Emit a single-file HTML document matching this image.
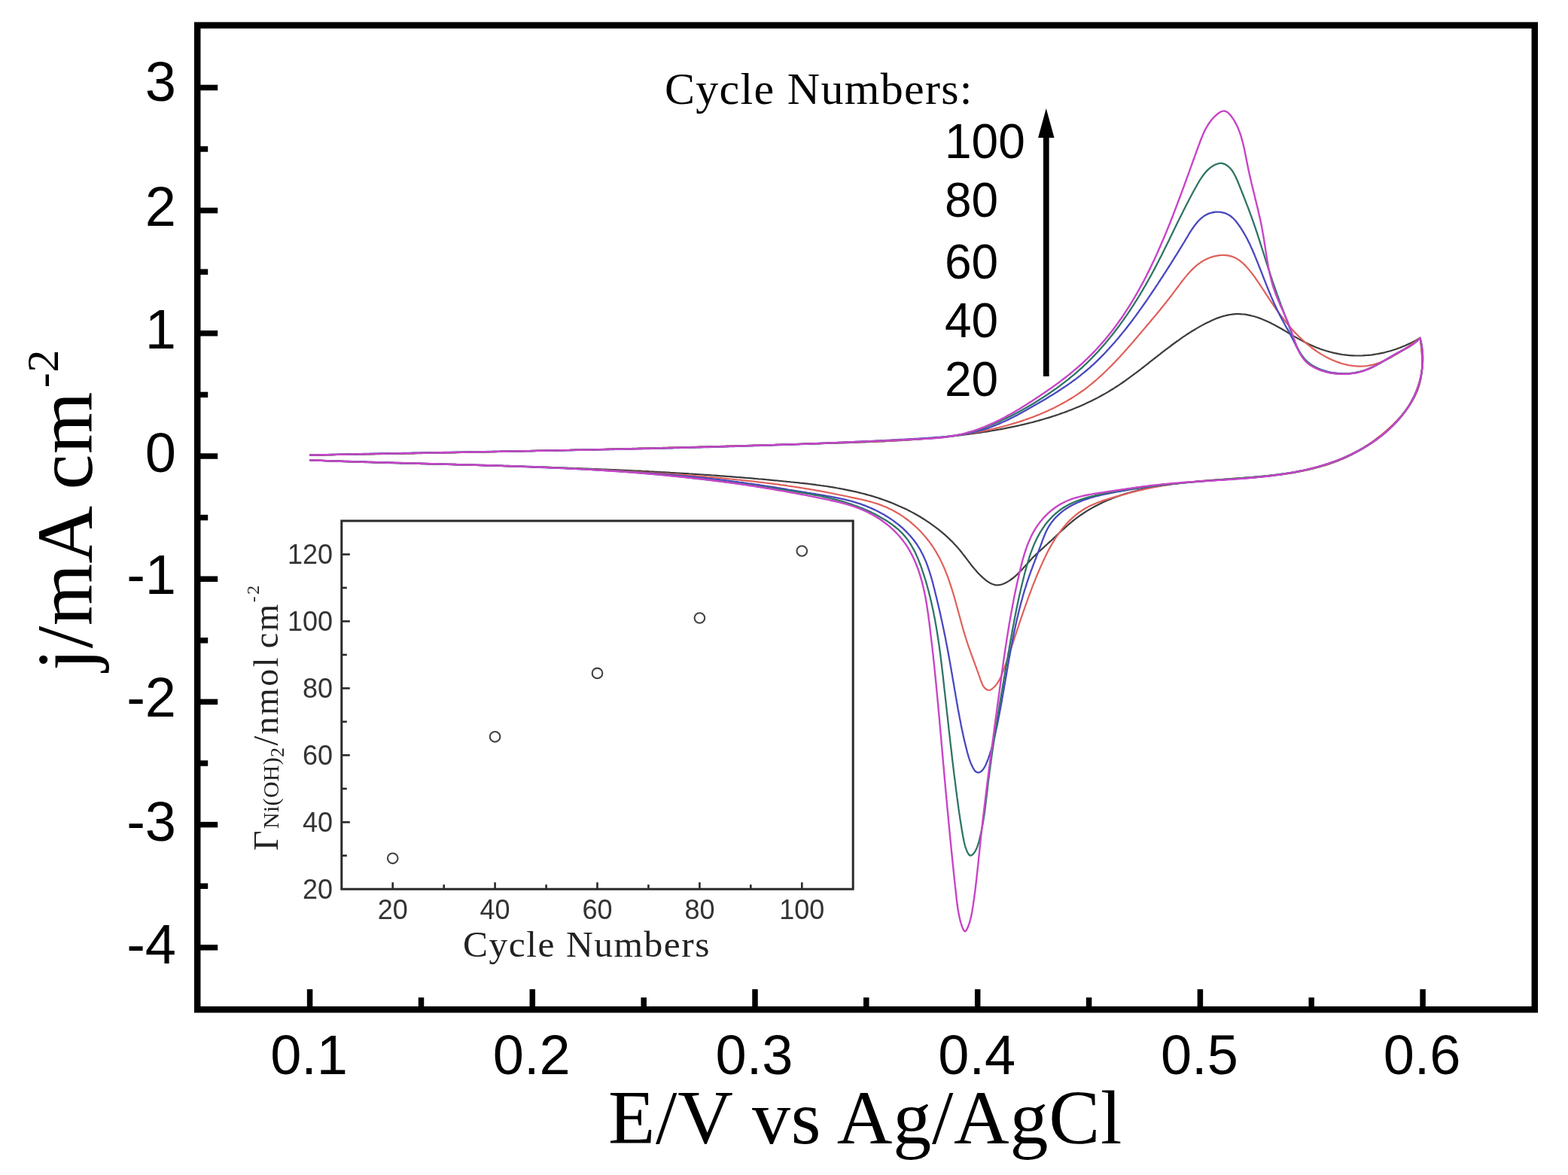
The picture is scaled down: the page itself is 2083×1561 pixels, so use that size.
<!DOCTYPE html><html><head><meta charset="utf-8"><title>Cyclic voltammograms</title>
<style>html,body{margin:0;padding:0;background:#fff;overflow:hidden;}svg{display:block;}.sans{font-family:"Liberation Sans",Arial,sans-serif;}.serif{font-family:"Liberation Serif","Times New Roman",serif;}</style></head><body>
<svg width="2083" height="1561" viewBox="0 0 2083 1561">
<rect x="0" y="0" width="2083" height="1561" fill="#fff"/>
<path d="M412.0,604.6L414.5,604.6 417.0,604.5 419.5,604.5 422.0,604.4 424.5,604.4 427.0,604.4 429.5,604.3 432.0,604.3 434.5,604.2 437.1,604.2 439.6,604.2 442.1,604.1 444.6,604.1 447.1,604.0 449.6,604.0 452.1,604.0 454.6,603.9 457.1,603.9 459.6,603.8 462.1,603.8 464.6,603.8 467.1,603.7 469.6,603.7 472.1,603.6 474.6,603.6 477.1,603.5 479.6,603.5 482.2,603.5 484.7,603.4 487.2,603.4 489.7,603.3 492.2,603.3 494.7,603.2 497.2,603.2 499.7,603.2 502.2,603.1 504.7,603.1 507.2,603.0 509.7,603.0 512.2,602.9 514.7,602.9 517.2,602.8 519.8,602.8 522.3,602.8 524.8,602.7 527.3,602.7 529.8,602.6 532.3,602.6 534.8,602.5 537.3,602.5 539.8,602.4 542.3,602.4 544.8,602.3 547.3,602.3 549.8,602.3 552.3,602.2 554.9,602.2 557.4,602.1 559.9,602.1 562.4,602.0 564.9,602.0 567.4,601.9 569.9,601.9 572.4,601.8 574.9,601.8 577.4,601.7 579.9,601.7 582.4,601.6 584.9,601.6 587.5,601.5 590.0,601.5 592.5,601.4 595.0,601.4 597.5,601.3 600.0,601.3 602.5,601.2 605.0,601.2 607.5,601.1 610.0,601.1 612.5,601.0 615.0,601.0 617.5,600.9 620.1,600.9 622.6,600.8 625.1,600.8 627.6,600.7 630.1,600.7 632.6,600.6 635.1,600.6 637.6,600.5 640.1,600.5 642.6,600.4 645.1,600.4 647.6,600.3 650.2,600.3 652.7,600.2 655.2,600.2 657.7,600.1 660.2,600.1 662.7,600.0 665.2,600.0 667.7,599.9 670.2,599.8 672.7,599.8 675.2,599.7 677.7,599.7 680.3,599.6 682.8,599.6 685.3,599.5 687.8,599.5 690.3,599.4 692.8,599.4 695.3,599.3 697.8,599.2 700.3,599.2 702.8,599.1 705.3,599.1 707.8,599.0 710.4,599.0 712.9,598.9 715.4,598.9 717.9,598.8 720.4,598.8 722.9,598.7 725.4,598.6 727.9,598.6 730.4,598.5 732.9,598.5 735.4,598.4 737.9,598.4 740.5,598.3 743.0,598.2 745.5,598.2 748.0,598.1 750.5,598.1 753.0,598.0 755.5,598.0 758.0,597.9 760.5,597.8 763.0,597.8 765.5,597.7 768.1,597.7 770.6,597.6 773.1,597.5 775.6,597.5 778.1,597.4 780.6,597.4 783.1,597.3 785.6,597.3 788.1,597.2 790.6,597.1 793.1,597.1 795.6,597.0 798.2,597.0 800.7,596.9 803.2,596.8 805.7,596.8 808.2,596.7 810.7,596.7 813.2,596.6 815.7,596.5 818.2,596.5 820.7,596.4 823.2,596.3 825.7,596.3 828.3,596.2 830.8,596.2 833.3,596.1 835.8,596.0 838.3,596.0 840.8,595.9 843.3,595.9 845.8,595.8 848.3,595.7 850.8,595.7 853.3,595.6 855.8,595.5 858.3,595.5 860.9,595.4 863.4,595.4 865.9,595.3 868.4,595.2 870.9,595.2 873.4,595.1 875.9,595.0 878.4,595.0 880.9,594.9 883.4,594.9 885.9,594.8 888.4,594.7 890.9,594.7 893.5,594.6 896.0,594.5 898.5,594.5 901.0,594.4 903.5,594.3 906.0,594.3 908.5,594.2 911.0,594.1 913.5,594.1 916.0,594.0 918.5,593.9 921.0,593.9 923.5,593.8 926.0,593.8 928.6,593.7 931.1,593.6 933.6,593.6 936.1,593.5 938.6,593.4 941.1,593.4 943.6,593.3 946.1,593.2 948.6,593.2 951.1,593.1 953.6,593.0 956.1,593.0 958.6,592.9 961.1,592.8 963.6,592.8 966.1,592.7 968.7,592.6 971.2,592.6 973.7,592.5 976.2,592.4 978.7,592.3 981.2,592.3 983.7,592.2 986.2,592.1 988.7,592.1 991.2,592.0 993.7,591.9 996.2,591.9 998.7,591.8 1001.2,591.7 1003.7,591.7 1006.2,591.6 1008.7,591.5 1011.3,591.5 1013.8,591.4 1016.3,591.3 1018.8,591.2 1021.3,591.2 1023.8,591.1 1026.3,591.0 1028.8,591.0 1031.3,590.9 1033.8,590.8 1036.3,590.8 1038.8,590.7 1041.3,590.6 1043.8,590.6 1046.3,590.5 1048.8,590.4 1051.3,590.3 1053.8,590.3 1056.3,590.2 1058.8,590.1 1061.3,590.1 1063.8,590.0 1066.4,589.9 1068.9,589.8 1071.4,589.8 1073.9,589.7 1076.4,589.6 1078.9,589.6 1081.4,589.5 1083.9,589.4 1086.4,589.3 1088.9,589.3 1091.4,589.2 1093.9,589.1 1096.4,589.0 1098.9,589.0 1101.4,588.9 1103.9,588.8 1106.4,588.8 1108.9,588.7 1111.4,588.6 1113.9,588.5 1116.4,588.5 1118.9,588.4 1121.4,588.3 1123.9,588.2 1126.4,588.1 1128.9,588.0 1131.4,588.0 1133.9,587.9 1136.4,587.8 1138.9,587.7 1141.4,587.6 1143.9,587.5 1146.4,587.4 1148.9,587.3 1151.4,587.2 1153.9,587.1 1156.4,587.0 1158.9,586.9 1161.4,586.8 1163.9,586.7 1166.5,586.6 1169.0,586.5 1171.5,586.4 1174.0,586.3 1176.5,586.1 1179.0,586.0 1181.5,585.9 1184.0,585.8 1186.5,585.6 1189.0,585.5 1191.5,585.3 1194.0,585.2 1196.5,585.1 1199.0,584.9 1201.5,584.8 1204.0,584.6 1206.5,584.4 1209.0,584.3 1211.5,584.1 1214.0,583.9 1216.5,583.8 1219.0,583.6 1221.5,583.4 1224.0,583.2 1226.5,583.0 1229.0,582.8 1231.5,582.6 1234.0,582.4 1236.5,582.2 1239.0,582.0 1241.5,581.7 1244.0,581.5 1246.5,581.3 1249.0,581.1 1251.5,580.8 1254.0,580.6 1256.5,580.3 1259.0,580.1 1261.5,579.8 1264.0,579.5 1266.5,579.3 1269.0,579.0 1271.4,578.7 1273.9,578.4 1276.4,578.1 1278.9,577.8 1281.4,577.5 1283.9,577.2 1286.4,576.9 1288.9,576.5 1291.4,576.2 1293.9,575.8 1296.4,575.5 1298.9,575.1 1301.4,574.8 1303.9,574.4 1306.4,574.0 1308.9,573.7 1311.4,573.3 1313.9,572.9 1316.4,572.5 1318.9,572.0 1321.4,571.6 1323.9,571.2 1326.3,570.7 1328.8,570.3 1331.3,569.8 1333.8,569.4 1336.3,568.9 1338.7,568.4 1341.2,567.9 1343.7,567.4 1346.1,566.9 1348.6,566.4 1351.1,565.8 1353.5,565.3 1356.0,564.7 1358.4,564.2 1360.9,563.6 1363.3,563.0 1365.8,562.4 1368.2,561.8 1370.6,561.2 1373.1,560.6 1375.5,559.9 1377.9,559.3 1380.3,558.6 1382.7,557.9 1385.1,557.2 1387.5,556.5 1389.9,555.8 1392.3,555.1 1394.7,554.4 1397.1,553.6 1399.5,552.8 1401.9,552.1 1404.2,551.3 1406.6,550.5 1408.9,549.6 1411.3,548.8 1413.6,548.0 1416.0,547.1 1418.3,546.2 1420.6,545.3 1422.9,544.4 1425.3,543.5 1427.6,542.6 1429.9,541.6 1432.1,540.7 1434.4,539.7 1436.7,538.7 1439.0,537.7 1441.2,536.7 1443.5,535.6 1445.7,534.6 1448.0,533.5 1450.2,532.4 1452.4,531.3 1454.6,530.2 1456.9,529.1 1459.1,527.9 1461.2,526.7 1463.4,525.5 1465.6,524.3 1467.8,523.1 1469.9,521.9 1472.1,520.6 1474.2,519.3 1476.3,518.0 1478.4,516.7 1480.5,515.4 1482.6,514.0 1484.7,512.7 1486.8,511.3 1488.9,509.9 1491.0,508.5 1493.0,507.0 1495.1,505.6 1497.1,504.1 1499.1,502.7 1501.2,501.2 1503.2,499.7 1505.2,498.2 1507.2,496.7 1509.3,495.2 1511.3,493.6 1513.3,492.1 1515.3,490.6 1517.3,489.0 1519.3,487.5 1521.3,485.9 1523.3,484.4 1525.2,482.8 1527.2,481.2 1529.2,479.7 1531.2,478.1 1533.2,476.5 1535.2,475.0 1537.2,473.4 1539.2,471.8 1541.2,470.3 1543.2,468.7 1545.2,467.2 1547.2,465.6 1549.2,464.1 1551.2,462.6 1553.3,461.0 1555.3,459.5 1557.3,458.0 1559.3,456.5 1561.4,455.0 1563.4,453.5 1565.5,452.1 1567.6,450.6 1569.6,449.2 1571.7,447.7 1573.8,446.3 1575.9,444.9 1578.0,443.5 1580.1,442.2 1582.2,440.8 1584.4,439.5 1586.5,438.2 1588.7,436.9 1590.8,435.6 1593.0,434.4 1595.2,433.1 1597.4,431.9 1599.6,430.7 1601.9,429.6 1604.1,428.5 1606.4,427.4 1608.7,426.3 1610.9,425.3 1613.2,424.3 1615.5,423.3 1617.9,422.4 1620.2,421.6 1622.5,420.8 1624.9,420.1 1627.3,419.5 1629.6,418.9 1632.0,418.4 1634.4,418.0 1636.8,417.6 1639.2,417.4 1641.6,417.2 1644.0,417.1 1646.5,417.1 1648.9,417.3 1651.3,417.5 1653.8,417.7 1656.2,418.1 1658.6,418.6 1661.0,419.1 1663.5,419.7 1665.9,420.3 1668.3,421.0 1670.7,421.8 1673.0,422.6 1675.4,423.5 1677.7,424.4 1680.1,425.4 1682.4,426.4 1684.7,427.5 1686.9,428.6 1689.2,429.7 1691.4,430.9 1693.7,432.1 1695.9,433.3 1698.1,434.5 1700.4,435.8 1702.6,437.0 1704.8,438.3 1707.0,439.6 1709.2,440.9 1711.4,442.2 1713.6,443.5 1715.8,444.8 1718.0,446.1 1720.2,447.4 1722.4,448.6 1724.6,449.9 1726.8,451.1 1729.1,452.3 1731.3,453.5 1733.5,454.7 1735.8,455.8 1738.1,456.9 1740.4,458.0 1742.7,459.0 1745.0,460.0 1747.3,461.0 1749.6,461.9 1751.9,462.8 1754.3,463.7 1756.6,464.5 1759.0,465.3 1761.4,466.0 1763.8,466.7 1766.2,467.4 1768.6,468.0 1771.0,468.6 1773.4,469.2 1775.8,469.7 1778.3,470.2 1780.7,470.6 1783.1,471.0 1785.6,471.3 1788.1,471.6 1790.5,471.9 1793.0,472.1 1795.5,472.3 1798.0,472.4 1800.4,472.5 1802.9,472.5 1805.4,472.5 1807.9,472.5 1810.4,472.4 1812.9,472.2 1815.5,472.0 1818.0,471.8 1820.5,471.6 1823.0,471.3 1825.5,470.9 1828.0,470.5 1830.4,470.1 1832.9,469.6 1835.4,469.1 1837.9,468.6 1840.3,468.0 1842.8,467.3 1845.2,466.7 1847.7,466.0 1850.1,465.3 1852.5,464.5 1854.9,463.7 1857.3,462.8 1859.6,462.0 1862.0,461.1 1864.3,460.1 1866.6,459.2 1868.9,458.1 1871.2,457.1 1873.4,456.0 1875.7,454.9 1877.9,453.8 1880.1,452.7 1882.2,451.5 1884.4,450.2 1886.5,449.0 M1886.5,449.0L1886.9,451.4 1887.2,453.9 1887.6,456.4 1887.9,458.8 1888.1,461.3 1888.4,463.8 1888.6,466.3 1888.8,468.8 1889.0,471.4 1889.1,473.9 1889.2,476.4 1889.3,478.9 1889.3,481.5 1889.3,484.0 1889.2,486.5 1889.1,489.0 1888.9,491.5 1888.7,494.0 1888.4,496.5 1888.0,499.0 1887.6,501.4 1887.2,503.9 1886.6,506.3 1886.0,508.7 1885.4,511.1 1884.6,513.5 1883.8,515.8 1883.0,518.2 1882.0,520.5 1881.0,522.7 1880.0,525.0 1878.9,527.3 1877.7,529.5 1876.5,531.7 1875.2,533.8 1873.9,536.0 1872.6,538.1 1871.2,540.2 1869.7,542.3 1868.2,544.3 1866.7,546.4 1865.2,548.4 1863.6,550.3 1862.0,552.3 1860.4,554.2 1858.7,556.1 1857.0,558.0 1855.3,559.8 1853.5,561.7 1851.8,563.5 1850.0,565.2 1848.2,567.0 1846.4,568.7 1844.5,570.4 1842.6,572.1 1840.8,573.7 1838.8,575.3 1836.9,576.9 1835.0,578.5 1833.0,580.0 1831.0,581.5 1829.0,583.0 1827.0,584.5 1824.9,585.9 1822.8,587.4 1820.8,588.8 1818.7,590.1 1816.6,591.5 1814.4,592.8 1812.3,594.1 1810.1,595.4 1807.9,596.6 1805.8,597.9 1803.6,599.1 1801.3,600.2 1799.1,601.4 1796.9,602.5 1794.6,603.7 1792.4,604.7 1790.1,605.8 1787.8,606.9 1785.5,607.9 1783.2,608.9 1780.9,609.9 1778.6,610.8 1776.2,611.7 1773.9,612.7 1771.6,613.5 1769.2,614.4 1766.8,615.3 1764.5,616.1 1762.1,616.9 1759.7,617.7 1757.3,618.4 1754.9,619.2 1752.5,619.9 1750.1,620.6 1747.7,621.2 1745.3,621.9 1742.9,622.5 1740.5,623.1 1738.1,623.7 1735.7,624.3 1733.2,624.9 1730.8,625.4 1728.4,625.9 1726.0,626.4 1723.5,626.9 1721.1,627.4 1718.6,627.8 1716.2,628.3 1713.8,628.7 1711.3,629.1 1708.9,629.5 1706.4,629.9 1704.0,630.2 1701.5,630.6 1699.0,630.9 1696.6,631.2 1694.1,631.5 1691.6,631.8 1689.2,632.1 1686.7,632.4 1684.2,632.7 1681.7,632.9 1679.3,633.2 1676.8,633.4 1674.3,633.7 1671.8,633.9 1669.3,634.1 1666.8,634.3 1664.3,634.5 1661.8,634.7 1659.4,634.9 1656.9,635.1 1654.4,635.3 1651.9,635.5 1649.4,635.6 1646.9,635.8 1644.4,636.0 1641.8,636.1 1639.3,636.3 1636.8,636.5 1634.3,636.6 1631.8,636.8 1629.3,636.9 1626.8,637.1 1624.3,637.3 1621.7,637.4 1619.2,637.6 1616.7,637.7 1614.2,637.9 1611.7,638.1 1609.1,638.2 1606.6,638.4 1604.1,638.6 1601.6,638.8 1599.1,639.0 1596.5,639.1 1594.0,639.3 1591.5,639.5 1588.9,639.8 1586.4,640.0 1583.9,640.2 1581.4,640.4 1578.8,640.7 1576.3,640.9 1573.8,641.2 1571.3,641.4 1568.7,641.7 1566.2,642.0 1563.7,642.3 1561.2,642.6 1558.6,642.9 1556.1,643.2 1553.6,643.6 1551.1,643.9 1548.6,644.3 1546.1,644.6 1543.6,645.0 1541.1,645.4 1538.6,645.9 1536.1,646.3 1533.7,646.7 1531.2,647.2 1528.7,647.7 1526.2,648.1 1523.8,648.7 1521.3,649.2 1518.9,649.7 1516.4,650.3 1514.0,650.8 1511.6,651.4 1509.2,652.1 1506.7,652.7 1504.3,653.3 1501.9,654.0 1499.5,654.7 1497.2,655.4 1494.8,656.1 1492.4,656.9 1490.1,657.6 1487.7,658.4 1485.4,659.3 1483.0,660.1 1480.7,661.0 1478.4,661.8 1476.1,662.7 1473.8,663.7 1471.6,664.6 1469.3,665.6 1467.0,666.6 1464.8,667.6 1462.6,668.7 1460.3,669.8 1458.1,670.9 1455.9,672.0 1453.7,673.2 1451.6,674.4 1449.4,675.6 1447.3,676.8 1445.1,678.1 1443.0,679.4 1440.9,680.8 1438.8,682.1 1436.8,683.5 1434.7,684.9 1432.7,686.4 1430.6,687.9 1428.6,689.4 1426.6,691.0 1424.6,692.5 1422.7,694.2 1420.7,695.8 1418.8,697.5 1416.9,699.2 1415.0,700.9 1413.1,702.6 1411.2,704.3 1409.3,706.0 1407.4,707.8 1405.6,709.5 1403.7,711.3 1401.9,713.0 1400.0,714.7 1398.2,716.5 1396.4,718.2 1394.5,719.9 1392.7,721.5 1390.9,723.2 1389.1,724.8 1387.3,726.5 1385.5,728.1 1383.7,729.7 1381.9,731.4 1380.1,733.0 1378.3,734.7 1376.5,736.4 1374.8,738.1 1373.0,739.8 1371.3,741.6 1369.5,743.5 1367.8,745.4 1366.1,747.3 1364.4,749.2 1362.6,751.1 1360.9,753.1 1359.1,755.0 1357.4,756.9 1355.6,758.8 1353.8,760.6 1352.0,762.4 1350.1,764.2 1348.2,765.9 1346.3,767.5 1344.3,769.0 1342.3,770.5 1340.2,771.9 1338.1,773.1 1336.0,774.3 1333.8,775.3 1331.5,776.2 1329.2,776.8 1326.9,777.2 1324.6,777.3 1322.3,777.1 1320.0,776.5 1317.8,775.7 1315.5,774.7 1313.4,773.4 1311.2,772.0 1309.1,770.4 1307.1,768.7 1305.1,766.9 1303.2,765.1 1301.3,763.3 1299.5,761.4 1297.8,759.5 1296.1,757.6 1294.4,755.6 1292.8,753.7 1291.2,751.8 1289.7,749.8 1288.2,747.8 1286.7,745.9 1285.2,743.9 1283.7,741.9 1282.2,740.0 1280.7,738.0 1279.2,736.1 1277.7,734.1 1276.2,732.2 1274.6,730.3 1273.0,728.4 1271.4,726.6 1269.7,724.7 1268.0,722.9 1266.3,721.1 1264.6,719.3 1262.8,717.6 1261.0,715.8 1259.2,714.1 1257.3,712.4 1255.5,710.7 1253.6,709.1 1251.6,707.4 1249.7,705.8 1247.7,704.2 1245.7,702.6 1243.7,701.1 1241.7,699.6 1239.6,698.1 1237.6,696.6 1235.5,695.1 1233.4,693.7 1231.3,692.3 1229.2,690.9 1227.0,689.5 1224.9,688.2 1222.7,686.8 1220.5,685.5 1218.3,684.3 1216.1,683.0 1213.9,681.8 1211.7,680.6 1209.5,679.4 1207.2,678.3 1205.0,677.1 1202.7,676.0 1200.5,675.0 1198.2,673.9 1195.9,672.9 1193.6,671.9 1191.4,670.9 1189.1,669.9 1186.8,668.9 1184.5,668.0 1182.1,667.1 1179.8,666.2 1177.5,665.4 1175.2,664.5 1172.8,663.7 1170.5,662.9 1168.1,662.1 1165.8,661.3 1163.4,660.6 1161.0,659.8 1158.7,659.1 1156.3,658.4 1153.9,657.8 1151.5,657.1 1149.1,656.4 1146.7,655.8 1144.3,655.2 1141.9,654.6 1139.5,654.0 1137.1,653.4 1134.6,652.9 1132.2,652.3 1129.8,651.8 1127.3,651.3 1124.9,650.8 1122.5,650.3 1120.0,649.8 1117.6,649.4 1115.1,648.9 1112.6,648.5 1110.2,648.0 1107.7,647.6 1105.3,647.2 1102.8,646.8 1100.3,646.4 1097.8,646.0 1095.4,645.7 1092.9,645.3 1090.4,645.0 1087.9,644.6 1085.4,644.3 1082.9,643.9 1080.4,643.6 1078.0,643.3 1075.5,643.0 1073.0,642.7 1070.5,642.4 1068.0,642.1 1065.5,641.8 1063.0,641.6 1060.5,641.3 1058.0,641.0 1055.5,640.8 1053.0,640.5 1050.5,640.3 1048.0,640.0 1045.4,639.8 1042.9,639.5 1040.4,639.3 1037.9,639.0 1035.4,638.8 1032.9,638.5 1030.4,638.3 1027.9,638.1 1025.4,637.8 1022.9,637.6 1020.4,637.4 1017.9,637.2 1015.4,636.9 1012.9,636.7 1010.4,636.5 1007.9,636.3 1005.4,636.0 1002.9,635.8 1000.4,635.6 997.9,635.4 995.4,635.2 992.9,635.0 990.3,634.8 987.8,634.6 985.3,634.4 982.8,634.2 980.3,634.0 977.8,633.8 975.3,633.6 972.8,633.4 970.3,633.2 967.8,633.0 965.3,632.8 962.8,632.6 960.3,632.4 957.8,632.3 955.3,632.1 952.8,631.9 950.3,631.7 947.8,631.5 945.3,631.4 942.8,631.2 940.3,631.0 937.8,630.8 935.3,630.7 932.8,630.5 930.3,630.3 927.8,630.2 925.3,630.0 922.8,629.8 920.3,629.7 917.8,629.5 915.3,629.4 912.8,629.2 910.3,629.1 907.7,628.9 905.2,628.8 902.7,628.6 900.2,628.5 897.7,628.3 895.2,628.2 892.7,628.0 890.2,627.9 887.7,627.7 885.2,627.6 882.7,627.4 880.2,627.3 877.7,627.2 875.2,627.0 872.7,626.9 870.2,626.8 867.7,626.6 865.2,626.5 862.7,626.4 860.2,626.2 857.7,626.1 855.2,626.0 852.7,625.9 850.2,625.7 847.7,625.6 845.2,625.5 842.7,625.4 840.2,625.3 837.7,625.1 835.2,625.0 832.7,624.9 830.2,624.8 827.7,624.7 825.2,624.6 822.7,624.4 820.2,624.3 817.7,624.2 815.2,624.1 812.7,624.0 810.2,623.9 807.7,623.8 805.2,623.7 802.7,623.6 800.2,623.5 797.7,623.4 795.2,623.3 792.7,623.2 790.2,623.1 787.7,623.0 785.2,622.9 782.6,622.8 780.1,622.7 777.6,622.6 775.1,622.5 772.6,622.4 770.1,622.3 767.6,622.2 765.1,622.1 762.6,622.0 760.1,621.9 757.6,621.8 755.1,621.8 752.6,621.7 750.1,621.6 747.6,621.5 745.1,621.4 742.6,621.3 740.1,621.2 737.6,621.2 735.1,621.1 732.6,621.0 730.1,620.9 727.6,620.8 725.1,620.7 722.6,620.7 720.1,620.6 717.6,620.5 715.1,620.4 712.6,620.3 710.1,620.3 707.6,620.2 705.1,620.1 702.6,620.0 700.1,620.0 697.6,619.9 695.1,619.8 692.6,619.7 690.1,619.7 687.6,619.6 685.1,619.5 682.6,619.4 680.1,619.4 677.6,619.3 675.1,619.2 672.6,619.1 670.1,619.1 667.6,619.0 665.1,618.9 662.5,618.9 660.0,618.8 657.5,618.7 655.0,618.7 652.5,618.6 650.0,618.5 647.5,618.4 645.0,618.4 642.5,618.3 640.0,618.2 637.5,618.2 635.0,618.1 632.5,618.0 630.0,618.0 627.5,617.9 625.0,617.8 622.5,617.8 620.0,617.7 617.5,617.6 615.0,617.6 612.5,617.5 610.0,617.4 607.5,617.4 605.0,617.3 602.5,617.2 600.0,617.2 597.5,617.1 595.0,617.0 592.5,617.0 590.0,616.9 587.4,616.8 584.9,616.8 582.4,616.7 579.9,616.6 577.4,616.6 574.9,616.5 572.4,616.4 569.9,616.3 567.4,616.3 564.9,616.2 562.4,616.1 559.9,616.1 557.4,616.0 554.9,615.9 552.4,615.9 549.9,615.8 547.4,615.7 544.9,615.7 542.4,615.6 539.9,615.5 537.4,615.4 534.9,615.4 532.3,615.3 529.8,615.2 527.3,615.2 524.8,615.1 522.3,615.0 519.8,614.9 517.3,614.9 514.8,614.8 512.3,614.7 509.8,614.6 507.3,614.6 504.8,614.5 502.3,614.4 499.8,614.3 497.3,614.3 494.8,614.2 492.3,614.1 489.7,614.0 487.2,614.0 484.7,613.9 482.2,613.8 479.7,613.7 477.2,613.6 474.7,613.6 472.2,613.5 469.7,613.4 467.2,613.3 464.7,613.2 462.2,613.1 459.7,613.1 457.2,613.0 454.6,612.9 452.1,612.8 449.6,612.7 447.1,612.6 444.6,612.5 442.1,612.4 439.6,612.3 437.1,612.3 434.6,612.2 432.1,612.1 429.6,612.0 427.1,611.9 424.5,611.8 422.0,611.7 419.5,611.6 417.0,611.5 414.5,611.4 412.0,611.3" fill="none" stroke="#3c3c3c" stroke-width="2.2" stroke-linejoin="round" stroke-linecap="round"/>
<path d="M412.0,604.6L414.5,604.6 417.0,604.5 419.5,604.5 422.0,604.4 424.5,604.4 427.1,604.3 429.6,604.3 432.1,604.2 434.6,604.2 437.1,604.1 439.6,604.1 442.1,604.1 444.6,604.0 447.1,604.0 449.6,603.9 452.1,603.9 454.7,603.8 457.2,603.8 459.7,603.7 462.2,603.7 464.7,603.6 467.2,603.6 469.7,603.6 472.2,603.5 474.7,603.5 477.2,603.4 479.7,603.4 482.2,603.3 484.8,603.3 487.3,603.2 489.8,603.2 492.3,603.1 494.8,603.1 497.3,603.1 499.8,603.0 502.3,603.0 504.8,602.9 507.3,602.9 509.8,602.8 512.3,602.8 514.8,602.7 517.4,602.7 519.9,602.6 522.4,602.6 524.9,602.6 527.4,602.5 529.9,602.5 532.4,602.4 534.9,602.4 537.4,602.3 539.9,602.3 542.4,602.2 544.9,602.2 547.4,602.1 549.9,602.1 552.5,602.1 555.0,602.0 557.5,602.0 560.0,601.9 562.5,601.9 565.0,601.8 567.5,601.8 570.0,601.7 572.5,601.7 575.0,601.6 577.5,601.6 580.0,601.5 582.5,601.5 585.0,601.4 587.5,601.4 590.1,601.4 592.6,601.3 595.1,601.3 597.6,601.2 600.1,601.2 602.6,601.1 605.1,601.1 607.6,601.0 610.1,601.0 612.6,600.9 615.1,600.9 617.6,600.8 620.1,600.8 622.6,600.7 625.1,600.7 627.6,600.6 630.2,600.6 632.7,600.5 635.2,600.5 637.7,600.4 640.2,600.4 642.7,600.3 645.2,600.3 647.7,600.2 650.2,600.2 652.7,600.1 655.2,600.1 657.7,600.1 660.2,600.0 662.7,600.0 665.2,599.9 667.7,599.9 670.3,599.8 672.8,599.8 675.3,599.7 677.8,599.7 680.3,599.6 682.8,599.6 685.3,599.5 687.8,599.4 690.3,599.4 692.8,599.3 695.3,599.3 697.8,599.2 700.3,599.2 702.8,599.1 705.3,599.1 707.8,599.0 710.3,599.0 712.8,598.9 715.4,598.9 717.9,598.8 720.4,598.8 722.9,598.7 725.4,598.7 727.9,598.6 730.4,598.6 732.9,598.5 735.4,598.5 737.9,598.4 740.4,598.4 742.9,598.3 745.4,598.3 747.9,598.2 750.4,598.1 752.9,598.1 755.4,598.0 757.9,598.0 760.5,597.9 763.0,597.9 765.5,597.8 768.0,597.8 770.5,597.7 773.0,597.7 775.5,597.6 778.0,597.5 780.5,597.5 783.0,597.4 785.5,597.4 788.0,597.3 790.5,597.3 793.0,597.2 795.5,597.1 798.0,597.1 800.5,597.0 803.1,597.0 805.6,596.9 808.1,596.9 810.6,596.8 813.1,596.7 815.6,596.7 818.1,596.6 820.6,596.6 823.1,596.5 825.6,596.5 828.1,596.4 830.6,596.3 833.1,596.3 835.6,596.2 838.1,596.2 840.6,596.1 843.1,596.0 845.6,596.0 848.2,595.9 850.7,595.9 853.2,595.8 855.7,595.7 858.2,595.7 860.7,595.6 863.2,595.6 865.7,595.5 868.2,595.4 870.7,595.4 873.2,595.3 875.7,595.2 878.2,595.2 880.7,595.1 883.2,595.1 885.7,595.0 888.2,594.9 890.8,594.9 893.3,594.8 895.8,594.7 898.3,594.7 900.8,594.6 903.3,594.5 905.8,594.5 908.3,594.4 910.8,594.3 913.3,594.3 915.8,594.2 918.3,594.1 920.8,594.1 923.3,594.0 925.8,593.9 928.3,593.9 930.9,593.8 933.4,593.7 935.9,593.7 938.4,593.6 940.9,593.5 943.4,593.5 945.9,593.4 948.4,593.3 950.9,593.3 953.4,593.2 955.9,593.1 958.4,593.1 960.9,593.0 963.4,592.9 965.9,592.8 968.5,592.8 971.0,592.7 973.5,592.6 976.0,592.6 978.5,592.5 981.0,592.4 983.5,592.3 986.0,592.3 988.5,592.2 991.0,592.1 993.5,592.0 996.0,592.0 998.5,591.9 1001.0,591.8 1003.6,591.7 1006.1,591.7 1008.6,591.6 1011.1,591.5 1013.6,591.4 1016.1,591.4 1018.6,591.3 1021.1,591.2 1023.6,591.1 1026.1,591.1 1028.6,591.0 1031.1,590.9 1033.6,590.8 1036.2,590.8 1038.7,590.7 1041.2,590.6 1043.7,590.5 1046.2,590.4 1048.7,590.4 1051.2,590.3 1053.7,590.2 1056.2,590.1 1058.7,590.0 1061.2,590.0 1063.7,589.9 1066.3,589.8 1068.8,589.7 1071.3,589.6 1073.8,589.5 1076.3,589.5 1078.8,589.4 1081.3,589.3 1083.8,589.2 1086.3,589.1 1088.8,589.0 1091.3,589.0 1093.9,588.9 1096.4,588.8 1098.9,588.7 1101.4,588.6 1103.9,588.5 1106.4,588.4 1108.9,588.4 1111.4,588.3 1113.9,588.2 1116.4,588.1 1118.9,588.0 1121.5,587.9 1124.0,587.8 1126.5,587.7 1129.0,587.6 1131.5,587.6 1134.0,587.5 1136.5,587.4 1139.0,587.3 1141.5,587.2 1144.0,587.1 1146.6,587.0 1149.1,586.9 1151.6,586.8 1154.1,586.7 1156.6,586.6 1159.1,586.5 1161.6,586.5 1164.1,586.4 1166.6,586.3 1169.1,586.2 1171.7,586.1 1174.2,586.0 1176.7,585.8 1179.2,585.7 1181.7,585.6 1184.2,585.5 1186.7,585.4 1189.2,585.3 1191.7,585.2 1194.2,585.0 1196.7,584.9 1199.2,584.8 1201.7,584.6 1204.2,584.5 1206.8,584.3 1209.3,584.2 1211.8,584.0 1214.3,583.9 1216.8,583.7 1219.3,583.5 1221.8,583.4 1224.3,583.2 1226.8,583.0 1229.2,582.8 1231.7,582.6 1234.2,582.4 1236.7,582.2 1239.2,581.9 1241.7,581.7 1244.2,581.5 1246.7,581.2 1249.2,581.0 1251.7,580.7 1254.1,580.5 1256.6,580.2 1259.1,579.9 1261.6,579.6 1264.1,579.3 1266.5,579.0 1269.0,578.7 1271.5,578.3 1274.0,578.0 1276.4,577.7 1278.9,577.3 1281.4,576.9 1283.8,576.5 1286.3,576.2 1288.8,575.8 1291.2,575.3 1293.7,574.9 1296.1,574.5 1298.6,574.0 1301.0,573.6 1303.5,573.1 1305.9,572.6 1308.4,572.1 1310.8,571.6 1313.3,571.1 1315.7,570.6 1318.2,570.0 1320.6,569.5 1323.0,568.9 1325.5,568.3 1327.9,567.7 1330.3,567.1 1332.7,566.5 1335.2,565.8 1337.6,565.2 1340.0,564.5 1342.4,563.8 1344.8,563.1 1347.2,562.4 1349.6,561.7 1352.0,560.9 1354.4,560.2 1356.8,559.4 1359.2,558.6 1361.6,557.8 1364.0,556.9 1366.3,556.1 1368.7,555.2 1371.1,554.4 1373.4,553.5 1375.8,552.6 1378.1,551.6 1380.5,550.7 1382.8,549.7 1385.1,548.7 1387.4,547.7 1389.7,546.7 1392.0,545.7 1394.3,544.6 1396.6,543.6 1398.8,542.5 1401.1,541.4 1403.3,540.2 1405.6,539.1 1407.8,537.9 1410.0,536.7 1412.2,535.5 1414.4,534.3 1416.6,533.1 1418.8,531.8 1420.9,530.5 1423.0,529.2 1425.2,527.9 1427.3,526.6 1429.4,525.2 1431.5,523.8 1433.5,522.4 1435.6,521.0 1437.6,519.5 1439.7,518.1 1441.7,516.6 1443.7,515.1 1445.7,513.5 1447.6,512.0 1449.6,510.4 1451.5,508.8 1453.4,507.2 1455.3,505.6 1457.2,504.0 1459.1,502.3 1461.0,500.6 1462.8,498.9 1464.7,497.2 1466.5,495.5 1468.3,493.8 1470.1,492.0 1471.9,490.3 1473.7,488.5 1475.5,486.7 1477.3,484.9 1479.0,483.1 1480.8,481.3 1482.5,479.5 1484.3,477.6 1486.0,475.8 1487.7,474.0 1489.4,472.1 1491.1,470.2 1492.8,468.4 1494.4,466.5 1496.1,464.6 1497.8,462.7 1499.4,460.8 1501.1,458.9 1502.8,457.0 1504.4,455.1 1506.0,453.2 1507.7,451.3 1509.3,449.4 1510.9,447.5 1512.5,445.6 1514.1,443.7 1515.8,441.8 1517.4,439.9 1519.0,438.0 1520.6,436.1 1522.2,434.2 1523.8,432.3 1525.4,430.4 1527.0,428.6 1528.5,426.7 1530.1,424.8 1531.7,422.9 1533.3,421.0 1534.9,419.1 1536.5,417.2 1538.0,415.3 1539.6,413.4 1541.2,411.5 1542.7,409.5 1544.3,407.6 1545.9,405.7 1547.4,403.7 1549.0,401.8 1550.5,399.8 1552.1,397.8 1553.6,395.8 1555.2,393.8 1556.7,391.8 1558.3,389.7 1559.8,387.7 1561.4,385.6 1562.9,383.5 1564.5,381.5 1566.0,379.4 1567.6,377.3 1569.1,375.2 1570.7,373.2 1572.3,371.1 1573.9,369.1 1575.6,367.1 1577.2,365.1 1578.9,363.2 1580.6,361.3 1582.4,359.4 1584.2,357.6 1586.0,355.9 1587.8,354.2 1589.7,352.6 1591.7,351.0 1593.7,349.6 1595.7,348.2 1597.8,346.8 1600.0,345.6 1602.2,344.5 1604.4,343.4 1606.7,342.5 1609.1,341.6 1611.5,340.9 1613.8,340.3 1616.3,339.8 1618.7,339.4 1621.1,339.1 1623.5,339.0 1625.9,339.0 1628.3,339.1 1630.7,339.4 1633.0,339.8 1635.3,340.4 1637.6,341.1 1639.7,342.0 1641.9,343.1 1644.0,344.3 1646.0,345.6 1648.0,347.1 1649.9,348.6 1651.8,350.3 1653.6,352.1 1655.4,353.9 1657.1,355.9 1658.8,357.8 1660.5,359.9 1662.1,361.9 1663.7,364.0 1665.3,366.1 1666.8,368.2 1668.3,370.4 1669.8,372.5 1671.2,374.6 1672.7,376.7 1674.1,378.8 1675.5,380.9 1676.9,383.0 1678.3,385.1 1679.6,387.2 1681.0,389.3 1682.3,391.4 1683.7,393.5 1685.1,395.5 1686.4,397.6 1687.8,399.7 1689.2,401.8 1690.6,403.8 1692.0,405.9 1693.4,407.9 1694.9,410.0 1696.3,412.0 1697.8,414.0 1699.2,416.1 1700.7,418.1 1702.2,420.1 1703.7,422.0 1705.2,424.0 1706.8,426.0 1708.3,427.9 1709.9,429.9 1711.5,431.8 1713.1,433.7 1714.7,435.6 1716.4,437.5 1718.1,439.3 1719.8,441.2 1721.5,443.0 1723.3,444.8 1725.0,446.6 1726.8,448.3 1728.6,450.1 1730.5,451.8 1732.4,453.5 1734.2,455.2 1736.2,456.8 1738.1,458.4 1740.1,460.0 1742.0,461.5 1744.0,463.0 1746.1,464.5 1748.1,466.0 1750.2,467.4 1752.3,468.8 1754.4,470.1 1756.6,471.4 1758.8,472.6 1761.0,473.9 1763.2,475.0 1765.5,476.2 1767.7,477.3 1770.0,478.3 1772.4,479.3 1774.7,480.2 1777.1,481.1 1779.4,481.9 1781.8,482.7 1784.2,483.4 1786.6,484.0 1789.1,484.6 1791.5,485.1 1793.9,485.5 1796.4,485.9 1798.8,486.2 1801.3,486.4 1803.7,486.6 1806.2,486.6 1808.6,486.6 1811.1,486.5 1813.5,486.3 1816.0,486.0 1818.4,485.6 1820.8,485.1 1823.2,484.6 1825.6,484.0 1828.0,483.3 1830.4,482.5 1832.7,481.7 1835.1,480.8 1837.4,479.8 1839.7,478.8 1842.0,477.7 1844.3,476.6 1846.6,475.4 1848.9,474.2 1851.1,472.9 1853.4,471.6 1855.6,470.3 1857.8,469.0 1860.0,467.6 1862.2,466.2 1864.3,464.8 1866.4,463.4 1868.5,461.9 1870.6,460.5 1872.7,459.0 1874.7,457.5 1876.7,456.1 1878.7,454.7 1880.7,453.2 1882.7,451.8 1884.6,450.4 1886.5,449.0 M1886.5,449.0L1886.9,451.4 1887.2,453.8 1887.6,456.2 1887.9,458.7 1888.2,461.1 1888.4,463.6 1888.7,466.1 1888.9,468.7 1889.0,471.2 1889.2,473.7 1889.3,476.3 1889.3,478.8 1889.3,481.4 1889.3,483.9 1889.2,486.5 1889.1,489.0 1888.9,491.5 1888.7,494.1 1888.4,496.6 1888.0,499.1 1887.6,501.6 1887.2,504.0 1886.6,506.5 1886.0,508.9 1885.4,511.3 1884.7,513.6 1883.9,516.0 1883.0,518.3 1882.1,520.6 1881.1,522.8 1880.1,525.1 1879.0,527.3 1877.8,529.5 1876.6,531.6 1875.4,533.7 1874.1,535.9 1872.7,537.9 1871.3,540.0 1869.9,542.0 1868.4,544.0 1866.9,546.0 1865.3,548.0 1863.8,549.9 1862.1,551.8 1860.5,553.7 1858.8,555.6 1857.0,557.5 1855.3,559.3 1853.5,561.1 1851.7,562.9 1849.9,564.7 1848.0,566.4 1846.2,568.1 1844.3,569.8 1842.4,571.5 1840.5,573.2 1838.6,574.8 1836.6,576.5 1834.7,578.1 1832.7,579.6 1830.7,581.2 1828.7,582.7 1826.7,584.3 1824.7,585.8 1822.7,587.2 1820.6,588.7 1818.6,590.1 1816.5,591.5 1814.4,592.9 1812.3,594.2 1810.2,595.6 1808.1,596.9 1805.9,598.2 1803.8,599.4 1801.6,600.6 1799.4,601.8 1797.3,603.0 1795.1,604.2 1792.8,605.3 1790.6,606.4 1788.4,607.5 1786.1,608.5 1783.9,609.5 1781.6,610.5 1779.3,611.4 1777.0,612.4 1774.7,613.3 1772.4,614.1 1770.0,615.0 1767.7,615.8 1765.3,616.6 1763.0,617.4 1760.6,618.1 1758.2,618.8 1755.8,619.5 1753.4,620.2 1751.0,620.8 1748.6,621.5 1746.2,622.1 1743.8,622.7 1741.3,623.2 1738.9,623.8 1736.4,624.3 1734.0,624.8 1731.5,625.3 1729.0,625.8 1726.6,626.3 1724.1,626.7 1721.6,627.1 1719.1,627.5 1716.6,627.9 1714.1,628.3 1711.6,628.7 1709.1,629.0 1706.6,629.4 1704.1,629.7 1701.6,630.1 1699.1,630.4 1696.6,630.7 1694.1,631.0 1691.6,631.2 1689.1,631.5 1686.6,631.8 1684.1,632.0 1681.6,632.3 1679.1,632.5 1676.6,632.8 1674.1,633.0 1671.6,633.2 1669.1,633.4 1666.6,633.6 1664.0,633.9 1661.5,634.1 1659.0,634.3 1656.5,634.5 1654.0,634.6 1651.5,634.8 1649.0,635.0 1646.5,635.2 1644.0,635.4 1641.5,635.6 1639.0,635.7 1636.5,635.9 1634.0,636.1 1631.5,636.3 1629.0,636.4 1626.5,636.6 1624.0,636.8 1621.5,637.0 1619.0,637.2 1616.5,637.3 1614.0,637.5 1611.5,637.7 1609.0,637.9 1606.5,638.1 1604.0,638.3 1601.5,638.5 1599.0,638.7 1596.6,638.9 1594.1,639.1 1591.6,639.4 1589.1,639.6 1586.6,639.8 1584.1,640.1 1581.7,640.3 1579.2,640.6 1576.7,640.9 1574.2,641.1 1571.7,641.4 1569.3,641.7 1566.8,642.0 1564.3,642.3 1561.9,642.7 1559.4,643.0 1556.9,643.3 1554.5,643.7 1552.0,644.1 1549.6,644.4 1547.1,644.8 1544.7,645.2 1542.2,645.7 1539.8,646.1 1537.3,646.5 1534.9,647.0 1532.4,647.5 1530.0,648.0 1527.6,648.5 1525.1,649.0 1522.7,649.5 1520.3,650.0 1517.8,650.6 1515.4,651.2 1513.0,651.7 1510.5,652.3 1508.1,652.9 1505.7,653.5 1503.2,654.1 1500.8,654.8 1498.4,655.4 1496.0,656.1 1493.5,656.7 1491.1,657.4 1488.7,658.1 1486.2,658.7 1483.8,659.4 1481.4,660.1 1478.9,660.8 1476.5,661.6 1474.1,662.3 1471.7,663.1 1469.2,663.8 1466.8,664.6 1464.4,665.4 1462.0,666.3 1459.7,667.1 1457.3,668.0 1455.0,669.0 1452.7,669.9 1450.4,671.0 1448.2,672.0 1445.9,673.1 1443.8,674.3 1441.6,675.5 1439.5,676.8 1437.4,678.1 1435.4,679.5 1433.4,680.9 1431.4,682.4 1429.5,683.9 1427.6,685.5 1425.7,687.1 1423.9,688.7 1422.1,690.4 1420.3,692.2 1418.6,693.9 1416.9,695.7 1415.3,697.6 1413.7,699.5 1412.1,701.4 1410.5,703.3 1409.0,705.3 1407.5,707.3 1406.1,709.3 1404.6,711.4 1403.2,713.4 1401.9,715.5 1400.5,717.7 1399.2,719.8 1397.9,722.0 1396.7,724.2 1395.4,726.4 1394.2,728.6 1393.0,730.8 1391.8,733.1 1390.7,735.3 1389.6,737.6 1388.4,739.9 1387.3,742.2 1386.3,744.5 1385.2,746.8 1384.2,749.1 1383.1,751.4 1382.1,753.7 1381.1,756.1 1380.1,758.4 1379.1,760.7 1378.2,763.0 1377.2,765.3 1376.2,767.6 1375.3,770.0 1374.4,772.3 1373.4,774.6 1372.5,776.9 1371.6,779.2 1370.7,781.6 1369.9,783.9 1369.0,786.2 1368.1,788.5 1367.2,790.9 1366.4,793.2 1365.5,795.5 1364.7,797.9 1363.9,800.2 1363.0,802.5 1362.2,804.9 1361.4,807.2 1360.6,809.5 1359.7,811.9 1358.9,814.2 1358.1,816.6 1357.3,818.9 1356.5,821.2 1355.7,823.6 1354.9,825.9 1354.1,828.3 1353.4,830.7 1352.6,833.0 1351.8,835.4 1351.0,837.7 1350.2,840.1 1349.4,842.5 1348.6,844.8 1347.8,847.2 1347.0,849.6 1346.3,852.0 1345.5,854.4 1344.7,856.7 1343.9,859.1 1343.1,861.5 1342.3,863.9 1341.4,866.3 1340.6,868.7 1339.8,871.1 1339.0,873.5 1338.2,876.0 1337.3,878.4 1336.5,880.8 1335.7,883.2 1334.8,885.6 1334.0,888.1 1333.1,890.5 1332.2,892.9 1331.2,895.3 1330.3,897.6 1329.2,899.9 1328.1,902.2 1326.9,904.3 1325.7,906.4 1324.3,908.4 1322.8,910.4 1321.2,912.2 1319.5,913.8 1317.7,915.4 1315.7,916.6 1313.6,917.0 1311.5,916.5 1309.5,915.3 1307.8,913.6 1306.3,911.7 1305.1,909.4 1304.1,907.0 1303.1,904.5 1302.2,902.0 1301.4,899.5 1300.5,897.0 1299.6,894.5 1298.7,892.0 1297.8,889.6 1297.0,887.2 1296.1,884.8 1295.2,882.4 1294.4,880.1 1293.5,877.7 1292.6,875.4 1291.8,873.0 1290.9,870.7 1290.1,868.4 1289.3,866.1 1288.4,863.7 1287.6,861.4 1286.8,859.1 1286.0,856.8 1285.2,854.5 1284.5,852.1 1283.7,849.8 1283.0,847.5 1282.2,845.1 1281.5,842.7 1280.8,840.4 1280.1,838.0 1279.4,835.6 1278.7,833.2 1278.0,830.8 1277.4,828.4 1276.7,825.9 1276.0,823.5 1275.4,821.1 1274.7,818.7 1274.1,816.2 1273.4,813.8 1272.7,811.4 1272.1,808.9 1271.4,806.5 1270.7,804.0 1270.1,801.6 1269.4,799.2 1268.7,796.7 1268.0,794.3 1267.3,791.9 1266.6,789.4 1265.9,787.0 1265.1,784.6 1264.4,782.2 1263.6,779.8 1262.8,777.4 1262.0,775.0 1261.2,772.6 1260.4,770.2 1259.6,767.9 1258.7,765.5 1257.8,763.2 1256.9,760.8 1256.0,758.5 1255.0,756.2 1254.0,753.9 1253.0,751.6 1252.0,749.4 1250.9,747.1 1249.9,744.9 1248.7,742.6 1247.6,740.4 1246.4,738.2 1245.2,736.1 1243.9,733.9 1242.7,731.8 1241.4,729.7 1240.0,727.6 1238.6,725.5 1237.2,723.5 1235.7,721.4 1234.3,719.4 1232.7,717.5 1231.2,715.5 1229.6,713.6 1228.0,711.7 1226.3,709.8 1224.6,707.9 1222.9,706.1 1221.2,704.3 1219.4,702.5 1217.6,700.8 1215.8,699.1 1213.9,697.4 1212.0,695.8 1210.1,694.2 1208.2,692.6 1206.2,691.0 1204.2,689.5 1202.2,688.1 1200.2,686.6 1198.1,685.2 1196.0,683.8 1193.9,682.5 1191.7,681.2 1189.6,680.0 1187.4,678.8 1185.2,677.6 1183.0,676.5 1180.7,675.4 1178.4,674.3 1176.1,673.3 1173.8,672.4 1171.5,671.4 1169.2,670.6 1166.8,669.7 1164.4,668.9 1162.0,668.2 1159.6,667.5 1157.2,666.8 1154.8,666.1 1152.3,665.5 1149.9,664.9 1147.4,664.3 1145.0,663.7 1142.5,663.2 1140.0,662.6 1137.6,662.1 1135.1,661.6 1132.6,661.1 1130.2,660.6 1127.7,660.0 1125.3,659.5 1122.8,659.0 1120.4,658.5 1118.0,658.0 1115.5,657.5 1113.1,657.0 1110.6,656.5 1108.2,656.0 1105.8,655.5 1103.3,655.0 1100.9,654.5 1098.4,654.1 1096.0,653.6 1093.5,653.1 1091.1,652.7 1088.6,652.2 1086.2,651.8 1083.7,651.4 1081.3,650.9 1078.8,650.5 1076.3,650.1 1073.9,649.7 1071.4,649.3 1068.9,648.9 1066.5,648.5 1064.0,648.1 1061.5,647.7 1059.1,647.3 1056.6,646.9 1054.1,646.5 1051.7,646.2 1049.2,645.8 1046.7,645.5 1044.2,645.1 1041.8,644.7 1039.3,644.4 1036.8,644.1 1034.3,643.7 1031.8,643.4 1029.4,643.1 1026.9,642.7 1024.4,642.4 1021.9,642.1 1019.4,641.8 1016.9,641.5 1014.5,641.2 1012.0,640.9 1009.5,640.6 1007.0,640.3 1004.5,640.0 1002.0,639.7 999.5,639.4 997.0,639.1 994.5,638.9 992.1,638.6 989.6,638.3 987.1,638.1 984.6,637.8 982.1,637.5 979.6,637.3 977.1,637.0 974.6,636.8 972.1,636.5 969.6,636.3 967.1,636.0 964.6,635.8 962.1,635.6 959.6,635.3 957.1,635.1 954.6,634.9 952.1,634.6 949.6,634.4 947.1,634.2 944.6,634.0 942.1,633.8 939.6,633.5 937.1,633.3 934.6,633.1 932.1,632.9 929.6,632.7 927.2,632.5 924.7,632.3 922.2,632.1 919.7,631.9 917.2,631.7 914.7,631.5 912.2,631.3 909.7,631.1 907.2,630.9 904.7,630.7 902.2,630.6 899.7,630.4 897.2,630.2 894.7,630.0 892.2,629.8 889.7,629.7 887.2,629.5 884.7,629.3 882.2,629.1 879.7,629.0 877.2,628.8 874.7,628.6 872.2,628.5 869.7,628.3 867.2,628.1 864.7,628.0 862.2,627.8 859.7,627.7 857.2,627.5 854.7,627.3 852.2,627.2 849.7,627.0 847.2,626.9 844.7,626.7 842.2,626.6 839.7,626.5 837.2,626.3 834.8,626.2 832.3,626.0 829.8,625.9 827.3,625.7 824.8,625.6 822.3,625.5 819.8,625.3 817.3,625.2 814.8,625.1 812.3,624.9 809.8,624.8 807.3,624.7 804.8,624.6 802.3,624.4 799.8,624.3 797.3,624.2 794.8,624.1 792.3,623.9 789.8,623.8 787.3,623.7 784.8,623.6 782.3,623.5 779.8,623.4 777.3,623.2 774.8,623.1 772.3,623.0 769.8,622.9 767.3,622.8 764.8,622.7 762.3,622.6 759.8,622.5 757.3,622.4 754.8,622.2 752.3,622.1 749.8,622.0 747.3,621.9 744.8,621.8 742.3,621.7 739.8,621.6 737.3,621.5 734.8,621.4 732.3,621.3 729.8,621.2 727.3,621.1 724.8,621.0 722.3,620.9 719.8,620.8 717.3,620.8 714.8,620.7 712.3,620.6 709.8,620.5 707.3,620.4 704.8,620.3 702.3,620.2 699.8,620.1 697.3,620.0 694.8,619.9 692.3,619.8 689.8,619.8 687.3,619.7 684.8,619.6 682.3,619.5 679.8,619.4 677.3,619.3 674.8,619.2 672.3,619.2 669.8,619.1 667.3,619.0 664.8,618.9 662.3,618.8 659.7,618.8 657.2,618.7 654.7,618.6 652.2,618.5 649.7,618.4 647.2,618.4 644.7,618.3 642.2,618.2 639.7,618.1 637.2,618.0 634.7,618.0 632.2,617.9 629.7,617.8 627.2,617.7 624.7,617.7 622.2,617.6 619.7,617.5 617.2,617.4 614.7,617.4 612.2,617.3 609.7,617.2 607.2,617.1 604.7,617.1 602.2,617.0 599.7,616.9 597.2,616.8 594.7,616.8 592.2,616.7 589.7,616.6 587.2,616.6 584.7,616.5 582.2,616.4 579.7,616.3 577.1,616.3 574.6,616.2 572.1,616.1 569.6,616.1 567.1,616.0 564.6,615.9 562.1,615.8 559.6,615.8 557.1,615.7 554.6,615.6 552.1,615.6 549.6,615.5 547.1,615.4 544.6,615.3 542.1,615.3 539.6,615.2 537.1,615.1 534.6,615.1 532.1,615.0 529.6,614.9 527.1,614.8 524.6,614.8 522.1,614.7 519.6,614.6 517.1,614.6 514.6,614.5 512.1,614.4 509.6,614.3 507.1,614.3 504.6,614.2 502.1,614.1 499.6,614.1 497.0,614.0 494.5,613.9 492.0,613.8 489.5,613.8 487.0,613.7 484.5,613.6 482.0,613.5 479.5,613.5 477.0,613.4 474.5,613.3 472.0,613.2 469.5,613.2 467.0,613.1 464.5,613.0 462.0,612.9 459.5,612.9 457.0,612.8 454.5,612.7 452.0,612.6 449.5,612.5 447.0,612.5 444.5,612.4 442.0,612.3 439.5,612.2 437.0,612.1 434.5,612.1 432.0,612.0 429.5,611.9 427.0,611.8 424.5,611.7 422.0,611.6 419.5,611.6 417.0,611.5 414.5,611.4 412.0,611.3" fill="none" stroke="#e0605a" stroke-width="2.2" stroke-linejoin="round" stroke-linecap="round"/>
<path d="M412.0,604.6L414.5,604.5 417.0,604.5 419.5,604.4 422.0,604.4 424.5,604.3 427.0,604.2 429.5,604.2 432.0,604.1 434.5,604.1 437.0,604.0 439.5,604.0 442.0,603.9 444.5,603.8 447.1,603.8 449.6,603.7 452.1,603.7 454.6,603.6 457.1,603.6 459.6,603.5 462.1,603.5 464.6,603.4 467.1,603.4 469.6,603.3 472.1,603.3 474.6,603.2 477.1,603.2 479.6,603.1 482.1,603.0 484.6,603.0 487.1,602.9 489.6,602.9 492.1,602.8 494.6,602.8 497.1,602.7 499.6,602.7 502.1,602.6 504.6,602.6 507.1,602.5 509.6,602.5 512.1,602.4 514.6,602.4 517.2,602.4 519.7,602.3 522.2,602.3 524.7,602.2 527.2,602.2 529.7,602.1 532.2,602.1 534.7,602.0 537.2,602.0 539.7,601.9 542.2,601.9 544.7,601.8 547.2,601.8 549.7,601.7 552.2,601.7 554.7,601.7 557.2,601.6 559.7,601.6 562.2,601.5 564.7,601.5 567.2,601.4 569.7,601.4 572.2,601.3 574.7,601.3 577.2,601.2 579.7,601.2 582.2,601.2 584.7,601.1 587.2,601.1 589.7,601.0 592.3,601.0 594.8,600.9 597.3,600.9 599.8,600.9 602.3,600.8 604.8,600.8 607.3,600.7 609.8,600.7 612.3,600.6 614.8,600.6 617.3,600.5 619.8,600.5 622.3,600.5 624.8,600.4 627.3,600.4 629.8,600.3 632.3,600.3 634.8,600.2 637.3,600.2 639.8,600.2 642.3,600.1 644.8,600.1 647.3,600.0 649.8,600.0 652.3,599.9 654.8,599.9 657.3,599.9 659.8,599.8 662.3,599.8 664.8,599.7 667.4,599.7 669.9,599.6 672.4,599.6 674.9,599.6 677.4,599.5 679.9,599.5 682.4,599.4 684.9,599.4 687.4,599.3 689.9,599.3 692.4,599.3 694.9,599.2 697.4,599.2 699.9,599.1 702.4,599.1 704.9,599.0 707.4,599.0 709.9,599.0 712.4,598.9 714.9,598.9 717.4,598.8 719.9,598.8 722.4,598.7 724.9,598.7 727.4,598.6 729.9,598.6 732.4,598.6 734.9,598.5 737.4,598.5 739.9,598.4 742.4,598.4 744.9,598.3 747.5,598.3 750.0,598.2 752.5,598.2 755.0,598.1 757.5,598.1 760.0,598.1 762.5,598.0 765.0,598.0 767.5,597.9 770.0,597.9 772.5,597.8 775.0,597.8 777.5,597.7 780.0,597.7 782.5,597.6 785.0,597.6 787.5,597.5 790.0,597.5 792.5,597.4 795.0,597.4 797.5,597.3 800.0,597.3 802.5,597.2 805.0,597.2 807.5,597.1 810.0,597.1 812.5,597.0 815.0,597.0 817.5,596.9 820.0,596.9 822.5,596.8 825.0,596.8 827.5,596.7 830.1,596.7 832.6,596.6 835.1,596.6 837.6,596.5 840.1,596.5 842.6,596.4 845.1,596.3 847.6,596.3 850.1,596.2 852.6,596.2 855.1,596.1 857.6,596.1 860.1,596.0 862.6,596.0 865.1,595.9 867.6,595.8 870.1,595.8 872.6,595.7 875.1,595.7 877.6,595.6 880.1,595.6 882.6,595.5 885.1,595.4 887.6,595.4 890.1,595.3 892.6,595.3 895.1,595.2 897.6,595.1 900.1,595.1 902.6,595.0 905.1,594.9 907.6,594.9 910.1,594.8 912.6,594.8 915.1,594.7 917.7,594.6 920.2,594.6 922.7,594.5 925.2,594.4 927.7,594.4 930.2,594.3 932.7,594.2 935.2,594.2 937.7,594.1 940.2,594.0 942.7,594.0 945.2,593.9 947.7,593.8 950.2,593.7 952.7,593.7 955.2,593.6 957.7,593.5 960.2,593.5 962.7,593.4 965.2,593.3 967.7,593.2 970.2,593.2 972.7,593.1 975.2,593.0 977.7,592.9 980.2,592.9 982.7,592.8 985.2,592.7 987.7,592.6 990.2,592.6 992.7,592.5 995.2,592.4 997.7,592.3 1000.2,592.2 1002.7,592.2 1005.2,592.1 1007.7,592.0 1010.3,591.9 1012.8,591.8 1015.3,591.7 1017.8,591.7 1020.3,591.6 1022.8,591.5 1025.3,591.4 1027.8,591.3 1030.3,591.2 1032.8,591.1 1035.3,591.1 1037.8,591.0 1040.3,590.9 1042.8,590.8 1045.3,590.7 1047.8,590.6 1050.3,590.5 1052.8,590.4 1055.3,590.3 1057.8,590.2 1060.3,590.1 1062.8,590.1 1065.3,590.0 1067.8,589.9 1070.3,589.8 1072.8,589.7 1075.3,589.6 1077.8,589.5 1080.3,589.4 1082.8,589.3 1085.3,589.2 1087.8,589.1 1090.3,589.0 1092.8,588.9 1095.3,588.8 1097.8,588.7 1100.3,588.6 1102.8,588.4 1105.3,588.3 1107.9,588.2 1110.4,588.1 1112.9,588.0 1115.4,587.9 1117.9,587.8 1120.4,587.7 1122.9,587.6 1125.4,587.5 1127.9,587.4 1130.4,587.2 1132.9,587.1 1135.4,587.0 1137.9,586.9 1140.4,586.8 1142.9,586.7 1145.4,586.5 1147.9,586.4 1150.4,586.3 1152.9,586.2 1155.4,586.1 1157.9,585.9 1160.4,585.8 1162.9,585.7 1165.4,585.6 1167.9,585.5 1170.4,585.3 1172.9,585.2 1175.4,585.1 1177.9,584.9 1180.4,584.8 1182.9,584.7 1185.4,584.6 1187.9,584.4 1190.4,584.3 1192.9,584.2 1195.4,584.0 1197.9,583.9 1200.4,583.8 1202.9,583.6 1205.4,583.5 1207.9,583.3 1210.5,583.2 1213.0,583.1 1215.5,582.9 1218.0,582.8 1220.5,582.6 1223.0,582.5 1225.5,582.4 1228.0,582.2 1230.5,582.1 1233.0,581.9 1235.5,581.7 1238.0,581.6 1240.5,581.4 1243.0,581.2 1245.4,581.0 1247.9,580.8 1250.4,580.6 1252.9,580.4 1255.4,580.1 1257.9,579.9 1260.4,579.6 1262.8,579.3 1265.3,579.0 1267.8,578.7 1270.2,578.4 1272.7,578.0 1275.1,577.7 1277.6,577.3 1280.0,576.9 1282.5,576.4 1284.9,576.0 1287.3,575.5 1289.8,575.0 1292.2,574.5 1294.6,573.9 1297.0,573.3 1299.4,572.7 1301.8,572.0 1304.2,571.4 1306.5,570.7 1308.9,569.9 1311.3,569.1 1313.6,568.3 1316.0,567.5 1318.3,566.6 1320.7,565.7 1323.0,564.8 1325.3,563.8 1327.6,562.9 1329.9,561.8 1332.2,560.8 1334.5,559.8 1336.8,558.7 1339.1,557.6 1341.4,556.5 1343.6,555.3 1345.9,554.2 1348.1,553.0 1350.4,551.9 1352.6,550.7 1354.9,549.5 1357.1,548.2 1359.3,547.0 1361.6,545.8 1363.8,544.5 1366.0,543.3 1368.2,542.1 1370.4,540.8 1372.6,539.5 1374.8,538.3 1377.0,537.0 1379.2,535.8 1381.3,534.5 1383.5,533.2 1385.7,531.9 1387.8,530.7 1390.0,529.4 1392.1,528.1 1394.3,526.8 1396.4,525.5 1398.5,524.2 1400.7,522.9 1402.8,521.5 1404.9,520.2 1407.0,518.8 1409.0,517.5 1411.1,516.1 1413.2,514.8 1415.2,513.4 1417.3,512.0 1419.3,510.6 1421.4,509.1 1423.4,507.7 1425.4,506.2 1427.4,504.8 1429.4,503.3 1431.3,501.8 1433.3,500.3 1435.2,498.8 1437.2,497.2 1439.1,495.7 1441.0,494.1 1442.9,492.5 1444.8,490.9 1446.7,489.3 1448.6,487.6 1450.4,485.9 1452.3,484.3 1454.1,482.6 1455.9,480.9 1457.7,479.1 1459.5,477.4 1461.3,475.6 1463.0,473.9 1464.8,472.1 1466.6,470.3 1468.3,468.5 1470.0,466.6 1471.7,464.8 1473.4,463.0 1475.1,461.1 1476.8,459.2 1478.5,457.3 1480.2,455.4 1481.8,453.5 1483.5,451.6 1485.1,449.7 1486.7,447.8 1488.3,445.8 1489.9,443.9 1491.5,441.9 1493.1,439.9 1494.7,438.0 1496.3,436.0 1497.8,434.0 1499.4,432.0 1500.9,430.0 1502.4,428.0 1504.0,426.0 1505.5,423.9 1507.0,421.9 1508.5,419.9 1510.0,417.8 1511.5,415.8 1513.0,413.7 1514.4,411.7 1515.9,409.6 1517.3,407.6 1518.8,405.5 1520.2,403.5 1521.7,401.4 1523.1,399.3 1524.5,397.3 1525.9,395.2 1527.3,393.1 1528.7,391.1 1530.1,389.0 1531.5,386.9 1532.9,384.8 1534.3,382.8 1535.7,380.7 1537.0,378.6 1538.4,376.6 1539.7,374.5 1541.1,372.5 1542.4,370.4 1543.8,368.4 1545.1,366.3 1546.4,364.2 1547.8,362.2 1549.1,360.1 1550.4,358.1 1551.7,356.0 1553.0,354.0 1554.3,351.9 1555.7,349.8 1557.0,347.7 1558.3,345.6 1559.6,343.5 1560.9,341.4 1562.2,339.3 1563.6,337.2 1564.9,335.1 1566.2,332.9 1567.5,330.8 1568.8,328.6 1570.2,326.4 1571.5,324.2 1572.9,322.0 1574.2,319.8 1575.5,317.5 1576.9,315.3 1578.3,313.0 1579.6,310.7 1581.0,308.4 1582.5,306.2 1583.9,304.0 1585.4,301.8 1586.9,299.7 1588.5,297.7 1590.1,295.7 1591.8,293.8 1593.5,292.0 1595.3,290.3 1597.1,288.8 1599.1,287.3 1601.1,286.1 1603.2,284.9 1605.4,283.9 1607.6,283.1 1609.9,282.5 1612.3,282.0 1614.6,281.7 1617.0,281.6 1619.4,281.6 1621.8,281.8 1624.1,282.3 1626.4,282.9 1628.7,283.7 1630.8,284.7 1632.9,285.8 1634.9,287.2 1636.8,288.8 1638.7,290.5 1640.4,292.3 1642.1,294.3 1643.7,296.3 1645.2,298.4 1646.7,300.5 1648.2,302.6 1649.6,304.8 1650.9,306.9 1652.2,309.1 1653.5,311.3 1654.7,313.5 1655.9,315.7 1657.1,317.9 1658.2,320.2 1659.3,322.4 1660.4,324.6 1661.4,326.9 1662.4,329.2 1663.5,331.5 1664.4,333.7 1665.4,336.0 1666.4,338.3 1667.3,340.6 1668.3,342.9 1669.2,345.3 1670.2,347.6 1671.1,349.9 1672.0,352.2 1672.9,354.5 1673.9,356.9 1674.8,359.2 1675.7,361.5 1676.6,363.9 1677.5,366.2 1678.4,368.5 1679.3,370.9 1680.3,373.2 1681.2,375.5 1682.1,377.9 1683.0,380.2 1684.0,382.5 1684.9,384.8 1685.8,387.1 1686.8,389.5 1687.8,391.8 1688.7,394.1 1689.7,396.4 1690.7,398.6 1691.7,400.9 1692.7,403.2 1693.8,405.5 1694.8,407.7 1695.9,410.0 1697.0,412.2 1698.1,414.4 1699.2,416.7 1700.3,418.9 1701.4,421.1 1702.6,423.3 1703.8,425.5 1705.0,427.7 1706.1,429.8 1707.3,432.0 1708.5,434.2 1709.7,436.4 1711.0,438.6 1712.2,440.8 1713.4,443.0 1714.5,445.3 1715.7,447.5 1716.9,449.8 1718.1,452.0 1719.2,454.3 1720.4,456.6 1721.5,458.9 1722.7,461.2 1723.9,463.5 1725.1,465.7 1726.4,467.9 1727.7,470.0 1729.1,472.1 1730.6,474.0 1732.1,475.9 1733.8,477.8 1735.5,479.5 1737.3,481.1 1739.2,482.6 1741.2,484.1 1743.2,485.4 1745.3,486.6 1747.5,487.8 1749.7,488.9 1752.0,489.9 1754.3,490.8 1756.6,491.7 1759.0,492.4 1761.5,493.1 1763.9,493.8 1766.4,494.3 1768.9,494.8 1771.4,495.2 1773.9,495.5 1776.5,495.8 1779.0,496.1 1781.5,496.2 1784.0,496.3 1786.5,496.3 1789.0,496.3 1791.5,496.2 1794.0,496.0 1796.5,495.7 1799.0,495.4 1801.4,495.0 1803.9,494.5 1806.3,494.0 1808.6,493.3 1811.0,492.6 1813.4,491.9 1815.7,491.0 1818.0,490.1 1820.2,489.1 1822.5,488.1 1824.7,487.0 1827.0,485.9 1829.2,484.8 1831.4,483.6 1833.6,482.4 1835.8,481.1 1838.0,479.8 1840.1,478.6 1842.3,477.3 1844.5,476.0 1846.7,474.7 1848.8,473.4 1851.0,472.1 1853.2,470.9 1855.4,469.6 1857.6,468.4 1859.8,467.2 1862.0,466.0 1864.2,464.8 1866.3,463.6 1868.5,462.4 1870.7,461.2 1872.8,459.9 1874.9,458.6 1876.9,457.2 1878.9,455.7 1880.9,454.2 1882.8,452.5 1884.7,450.8 1886.5,449.0 M1886.5,449.0L1887.1,451.5 1887.6,454.0 1888.0,456.6 1888.4,459.1 1888.8,461.6 1889.1,464.1 1889.3,466.6 1889.5,469.2 1889.7,471.7 1889.7,474.2 1889.8,476.7 1889.8,479.2 1889.7,481.7 1889.6,484.2 1889.4,486.7 1889.2,489.1 1888.9,491.6 1888.6,494.0 1888.2,496.5 1887.8,498.9 1887.3,501.3 1886.7,503.7 1886.1,506.1 1885.5,508.5 1884.8,510.9 1884.1,513.2 1883.3,515.5 1882.4,517.8 1881.5,520.1 1880.6,522.4 1879.6,524.7 1878.6,526.9 1877.5,529.1 1876.3,531.3 1875.1,533.5 1873.9,535.6 1872.6,537.8 1871.3,539.9 1869.9,542.0 1868.5,544.0 1867.1,546.1 1865.6,548.1 1864.0,550.1 1862.5,552.1 1860.9,554.0 1859.2,555.9 1857.6,557.8 1855.9,559.7 1854.1,561.6 1852.3,563.4 1850.6,565.2 1848.7,567.0 1846.9,568.8 1845.0,570.5 1843.1,572.2 1841.2,573.9 1839.2,575.6 1837.2,577.2 1835.2,578.8 1833.2,580.4 1831.2,581.9 1829.1,583.5 1827.1,584.9 1825.0,586.4 1822.9,587.9 1820.8,589.3 1818.6,590.7 1816.5,592.0 1814.3,593.3 1812.2,594.6 1810.0,595.9 1807.8,597.1 1805.6,598.4 1803.4,599.6 1801.2,600.7 1799.0,601.8 1796.8,603.0 1794.6,604.0 1792.3,605.1 1790.1,606.1 1787.8,607.1 1785.5,608.1 1783.3,609.1 1781.0,610.0 1778.7,610.9 1776.4,611.8 1774.1,612.7 1771.7,613.5 1769.4,614.4 1767.1,615.2 1764.8,615.9 1762.4,616.7 1760.1,617.4 1757.7,618.2 1755.3,618.9 1753.0,619.5 1750.6,620.2 1748.2,620.8 1745.8,621.5 1743.4,622.1 1741.0,622.7 1738.6,623.2 1736.2,623.8 1733.7,624.3 1731.3,624.9 1728.9,625.4 1726.5,625.9 1724.0,626.3 1721.6,626.8 1719.1,627.3 1716.7,627.7 1714.2,628.1 1711.7,628.5 1709.3,628.9 1706.8,629.3 1704.3,629.7 1701.9,630.0 1699.4,630.4 1696.9,630.7 1694.4,631.0 1691.9,631.4 1689.4,631.7 1686.9,632.0 1684.4,632.3 1681.9,632.5 1679.4,632.8 1676.9,633.1 1674.4,633.3 1671.9,633.6 1669.4,633.8 1666.9,634.0 1664.4,634.3 1661.8,634.5 1659.3,634.7 1656.8,634.9 1654.3,635.1 1651.8,635.3 1649.2,635.5 1646.7,635.7 1644.2,635.9 1641.7,636.1 1639.2,636.3 1636.6,636.4 1634.1,636.6 1631.6,636.8 1629.1,637.0 1626.6,637.1 1624.0,637.3 1621.5,637.5 1619.0,637.7 1616.5,637.8 1614.0,638.0 1611.5,638.2 1608.9,638.4 1606.4,638.5 1603.9,638.7 1601.4,638.9 1598.9,639.1 1596.4,639.3 1593.9,639.5 1591.4,639.7 1588.9,639.9 1586.4,640.1 1583.9,640.3 1581.4,640.5 1579.0,640.7 1576.5,640.9 1574.0,641.2 1571.5,641.4 1569.0,641.6 1566.6,641.9 1564.1,642.1 1561.6,642.4 1559.1,642.7 1556.7,642.9 1554.2,643.2 1551.7,643.5 1549.3,643.7 1546.8,644.0 1544.3,644.3 1541.9,644.6 1539.4,644.9 1536.9,645.2 1534.5,645.5 1532.0,645.9 1529.6,646.2 1527.1,646.5 1524.6,646.9 1522.2,647.2 1519.7,647.6 1517.2,647.9 1514.8,648.3 1512.3,648.7 1509.8,649.0 1507.4,649.4 1504.9,649.8 1502.4,650.2 1499.9,650.6 1497.5,651.0 1495.0,651.5 1492.5,651.9 1490.0,652.3 1487.6,652.8 1485.1,653.2 1482.6,653.7 1480.1,654.1 1477.6,654.6 1475.1,655.1 1472.6,655.6 1470.2,656.1 1467.7,656.6 1465.2,657.1 1462.7,657.7 1460.2,658.3 1457.8,658.9 1455.3,659.5 1452.9,660.1 1450.5,660.8 1448.1,661.5 1445.7,662.3 1443.3,663.1 1440.9,663.9 1438.6,664.7 1436.2,665.6 1433.9,666.6 1431.7,667.5 1429.4,668.6 1427.2,669.7 1425.0,670.8 1422.8,672.0 1420.6,673.2 1418.5,674.5 1416.5,675.8 1414.4,677.2 1412.4,678.7 1410.4,680.2 1408.5,681.8 1406.7,683.4 1404.9,685.1 1403.1,686.8 1401.4,688.6 1399.8,690.5 1398.2,692.4 1396.7,694.4 1395.3,696.4 1393.9,698.5 1392.6,700.6 1391.4,702.8 1390.3,705.0 1389.2,707.3 1388.2,709.6 1387.3,712.0 1386.3,714.3 1385.4,716.7 1384.5,719.1 1383.7,721.5 1382.8,723.9 1381.9,726.3 1381.0,728.7 1380.1,731.1 1379.2,733.5 1378.3,735.8 1377.4,738.2 1376.5,740.5 1375.6,742.9 1374.7,745.2 1373.8,747.6 1372.9,749.9 1372.0,752.2 1371.2,754.6 1370.3,756.9 1369.4,759.2 1368.6,761.6 1367.7,763.9 1366.9,766.3 1366.1,768.7 1365.3,771.0 1364.5,773.4 1363.8,775.7 1363.0,778.1 1362.3,780.5 1361.5,782.9 1360.8,785.2 1360.1,787.6 1359.4,790.0 1358.7,792.4 1358.1,794.8 1357.4,797.2 1356.7,799.6 1356.1,802.0 1355.5,804.4 1354.8,806.8 1354.2,809.3 1353.6,811.7 1353.0,814.1 1352.4,816.5 1351.9,819.0 1351.3,821.4 1350.7,823.8 1350.2,826.3 1349.6,828.7 1349.1,831.2 1348.6,833.6 1348.0,836.1 1347.5,838.5 1347.0,841.0 1346.5,843.4 1346.0,845.9 1345.5,848.4 1345.0,850.8 1344.6,853.3 1344.1,855.8 1343.6,858.3 1343.2,860.7 1342.7,863.2 1342.2,865.7 1341.8,868.2 1341.3,870.6 1340.9,873.1 1340.4,875.6 1340.0,878.1 1339.6,880.6 1339.1,883.0 1338.7,885.5 1338.3,888.0 1337.8,890.5 1337.4,893.0 1337.0,895.5 1336.6,897.9 1336.1,900.4 1335.7,902.9 1335.3,905.4 1334.9,907.9 1334.4,910.3 1334.0,912.8 1333.6,915.3 1333.2,917.7 1332.7,920.2 1332.3,922.7 1331.9,925.1 1331.4,927.6 1331.0,930.1 1330.6,932.5 1330.1,935.0 1329.7,937.4 1329.2,939.9 1328.8,942.3 1328.3,944.7 1327.8,947.2 1327.4,949.6 1326.9,952.0 1326.4,954.5 1325.9,956.9 1325.5,959.3 1325.0,961.7 1324.5,964.1 1324.0,966.5 1323.4,968.9 1322.9,971.3 1322.4,973.7 1321.9,976.1 1321.3,978.5 1320.8,980.8 1320.2,983.2 1319.6,985.6 1319.0,988.0 1318.3,990.4 1317.7,992.9 1317.0,995.3 1316.2,997.8 1315.4,1000.3 1314.6,1002.9 1313.7,1005.4 1312.8,1008.1 1311.8,1010.7 1310.7,1013.3 1309.6,1015.9 1308.4,1018.3 1307.2,1020.4 1305.8,1022.4 1304.4,1024.0 1302.9,1025.2 1301.3,1026.0 1299.7,1026.3 1298.1,1026.1 1296.5,1025.3 1294.9,1023.8 1293.5,1021.7 1292.2,1019.3 1291.0,1016.8 1289.9,1014.4 1288.9,1011.9 1288.0,1009.5 1287.2,1007.0 1286.5,1004.6 1285.8,1002.2 1285.1,999.8 1284.5,997.4 1283.9,995.0 1283.3,992.6 1282.7,990.2 1282.1,987.8 1281.5,985.3 1280.9,982.9 1280.4,980.5 1279.8,978.0 1279.3,975.6 1278.8,973.2 1278.3,970.7 1277.7,968.3 1277.2,965.8 1276.7,963.4 1276.3,960.9 1275.8,958.4 1275.3,956.0 1274.8,953.5 1274.4,951.1 1273.9,948.6 1273.4,946.1 1273.0,943.7 1272.5,941.2 1272.1,938.7 1271.7,936.2 1271.2,933.8 1270.8,931.3 1270.4,928.8 1269.9,926.4 1269.5,923.9 1269.1,921.4 1268.7,918.9 1268.2,916.4 1267.8,914.0 1267.4,911.5 1267.0,909.0 1266.6,906.6 1266.1,904.1 1265.7,901.6 1265.3,899.1 1264.9,896.7 1264.5,894.2 1264.0,891.7 1263.6,889.3 1263.2,886.8 1262.7,884.3 1262.3,881.9 1261.9,879.4 1261.4,877.0 1261.0,874.5 1260.5,872.1 1260.1,869.6 1259.6,867.1 1259.2,864.7 1258.7,862.3 1258.3,859.8 1257.8,857.4 1257.3,854.9 1256.8,852.5 1256.4,850.0 1255.9,847.6 1255.4,845.1 1254.9,842.7 1254.4,840.3 1253.9,837.8 1253.4,835.4 1252.9,832.9 1252.4,830.5 1251.8,828.0 1251.3,825.6 1250.8,823.2 1250.2,820.7 1249.7,818.3 1249.2,815.8 1248.6,813.4 1248.1,810.9 1247.5,808.5 1246.9,806.1 1246.4,803.6 1245.8,801.2 1245.2,798.7 1244.6,796.3 1244.0,793.8 1243.4,791.4 1242.8,788.9 1242.2,786.4 1241.6,784.0 1241.0,781.5 1240.3,779.1 1239.7,776.6 1239.1,774.1 1238.4,771.7 1237.7,769.2 1237.0,766.8 1236.3,764.4 1235.5,761.9 1234.8,759.5 1234.0,757.1 1233.2,754.8 1232.4,752.4 1231.5,750.0 1230.6,747.7 1229.7,745.4 1228.7,743.1 1227.7,740.8 1226.6,738.5 1225.6,736.3 1224.4,734.1 1223.3,731.9 1222.1,729.8 1220.8,727.6 1219.5,725.6 1218.2,723.5 1216.8,721.5 1215.3,719.5 1213.8,717.5 1212.3,715.6 1210.7,713.7 1209.1,711.8 1207.4,710.0 1205.7,708.2 1204.0,706.4 1202.2,704.6 1200.4,702.9 1198.6,701.2 1196.7,699.6 1194.8,698.0 1192.8,696.4 1190.8,694.9 1188.8,693.3 1186.8,691.9 1184.7,690.4 1182.7,689.0 1180.5,687.6 1178.4,686.2 1176.2,684.9 1174.1,683.6 1171.9,682.4 1169.6,681.2 1167.4,680.0 1165.1,678.8 1162.9,677.7 1160.6,676.6 1158.3,675.6 1155.9,674.5 1153.6,673.6 1151.3,672.6 1148.9,671.7 1146.5,670.8 1144.2,669.9 1141.8,669.1 1139.4,668.3 1137.0,667.6 1134.6,666.9 1132.2,666.2 1129.8,665.5 1127.4,664.9 1125.0,664.3 1122.6,663.7 1120.2,663.1 1117.7,662.6 1115.3,662.1 1112.9,661.6 1110.4,661.1 1108.0,660.6 1105.6,660.2 1103.1,659.7 1100.7,659.3 1098.2,658.9 1095.8,658.4 1093.3,658.0 1090.9,657.6 1088.4,657.2 1085.9,656.8 1083.5,656.4 1081.0,656.0 1078.5,655.6 1076.1,655.2 1073.6,654.8 1071.2,654.4 1068.7,654.0 1066.2,653.6 1063.7,653.2 1061.3,652.8 1058.8,652.4 1056.3,652.0 1053.9,651.6 1051.4,651.2 1048.9,650.8 1046.4,650.4 1044.0,649.9 1041.5,649.5 1039.0,649.1 1036.5,648.7 1034.1,648.3 1031.6,647.9 1029.1,647.5 1026.6,647.1 1024.1,646.7 1021.7,646.3 1019.2,645.9 1016.7,645.6 1014.2,645.2 1011.7,644.8 1009.3,644.4 1006.8,644.0 1004.3,643.7 1001.8,643.3 999.3,643.0 996.8,642.6 994.3,642.3 991.9,641.9 989.4,641.6 986.9,641.2 984.4,640.9 981.9,640.6 979.4,640.2 977.0,639.9 974.5,639.6 972.0,639.3 969.5,639.0 967.0,638.6 964.5,638.3 962.0,638.0 959.5,637.7 957.1,637.5 954.6,637.2 952.1,636.9 949.6,636.6 947.1,636.3 944.6,636.0 942.1,635.8 939.6,635.5 937.1,635.2 934.6,635.0 932.2,634.7 929.7,634.5 927.2,634.2 924.7,634.0 922.2,633.7 919.7,633.5 917.2,633.2 914.7,633.0 912.2,632.7 909.7,632.5 907.2,632.3 904.7,632.1 902.3,631.8 899.8,631.6 897.3,631.4 894.8,631.2 892.3,631.0 889.8,630.8 887.3,630.6 884.8,630.4 882.3,630.2 879.8,630.0 877.3,629.8 874.8,629.6 872.3,629.4 869.8,629.2 867.3,629.0 864.8,628.8 862.3,628.6 859.8,628.5 857.3,628.3 854.8,628.1 852.3,627.9 849.9,627.8 847.4,627.6 844.9,627.4 842.4,627.3 839.9,627.1 837.4,626.9 834.9,626.8 832.4,626.6 829.9,626.5 827.4,626.3 824.9,626.1 822.4,626.0 819.9,625.8 817.4,625.7 814.9,625.6 812.4,625.4 809.9,625.3 807.4,625.1 804.9,625.0 802.4,624.9 799.9,624.7 797.4,624.6 794.9,624.4 792.4,624.3 789.9,624.2 787.4,624.1 784.9,623.9 782.4,623.8 779.9,623.7 777.4,623.5 774.9,623.4 772.4,623.3 769.9,623.2 767.4,623.1 764.9,622.9 762.4,622.8 759.9,622.7 757.4,622.6 754.9,622.5 752.4,622.4 749.9,622.2 747.4,622.1 744.9,622.0 742.4,621.9 739.9,621.8 737.4,621.7 734.9,621.6 732.4,621.5 729.9,621.4 727.4,621.3 724.9,621.2 722.4,621.1 719.9,621.0 717.4,620.9 714.9,620.8 712.4,620.7 709.9,620.6 707.4,620.5 704.8,620.4 702.3,620.3 699.8,620.2 697.3,620.1 694.8,620.0 692.3,619.9 689.8,619.8 687.3,619.7 684.8,619.6 682.3,619.5 679.8,619.4 677.3,619.4 674.8,619.3 672.3,619.2 669.8,619.1 667.3,619.0 664.8,618.9 662.3,618.8 659.8,618.8 657.3,618.7 654.8,618.6 652.3,618.5 649.8,618.4 647.3,618.3 644.8,618.3 642.3,618.2 639.8,618.1 637.3,618.0 634.8,617.9 632.3,617.9 629.8,617.8 627.3,617.7 624.8,617.6 622.3,617.6 619.8,617.5 617.2,617.4 614.7,617.3 612.2,617.3 609.7,617.2 607.2,617.1 604.7,617.0 602.2,617.0 599.7,616.9 597.2,616.8 594.7,616.7 592.2,616.7 589.7,616.6 587.2,616.5 584.7,616.5 582.2,616.4 579.7,616.3 577.2,616.2 574.7,616.2 572.2,616.1 569.7,616.0 567.2,616.0 564.7,615.9 562.2,615.8 559.7,615.7 557.2,615.7 554.7,615.6 552.2,615.5 549.7,615.5 547.1,615.4 544.6,615.3 542.1,615.2 539.6,615.2 537.1,615.1 534.6,615.0 532.1,615.0 529.6,614.9 527.1,614.8 524.6,614.8 522.1,614.7 519.6,614.6 517.1,614.5 514.6,614.5 512.1,614.4 509.6,614.3 507.1,614.3 504.6,614.2 502.1,614.1 499.6,614.0 497.1,614.0 494.6,613.9 492.1,613.8 489.6,613.8 487.1,613.7 484.6,613.6 482.1,613.5 479.6,613.5 477.1,613.4 474.6,613.3 472.1,613.2 469.5,613.2 467.0,613.1 464.5,613.0 462.0,612.9 459.5,612.9 457.0,612.8 454.5,612.7 452.0,612.6 449.5,612.5 447.0,612.5 444.5,612.4 442.0,612.3 439.5,612.2 437.0,612.1 434.5,612.1 432.0,612.0 429.5,611.9 427.0,611.8 424.5,611.7 422.0,611.6 419.5,611.6 417.0,611.5 414.5,611.4 412.0,611.3" fill="none" stroke="#4848c0" stroke-width="2.3" stroke-linejoin="round" stroke-linecap="round"/>
<path d="M412.0,604.6L414.5,604.5 417.0,604.5 419.5,604.4 422.0,604.4 424.5,604.3 427.0,604.3 429.5,604.3 432.0,604.2 434.5,604.2 437.0,604.1 439.5,604.1 442.0,604.0 444.5,604.0 447.0,603.9 449.5,603.9 452.0,603.8 454.6,603.8 457.1,603.7 459.6,603.7 462.1,603.6 464.6,603.6 467.1,603.5 469.6,603.5 472.1,603.4 474.6,603.4 477.1,603.3 479.6,603.3 482.1,603.2 484.6,603.2 487.1,603.1 489.6,603.1 492.1,603.0 494.6,603.0 497.1,603.0 499.6,602.9 502.1,602.9 504.6,602.8 507.1,602.8 509.6,602.7 512.1,602.7 514.6,602.6 517.1,602.6 519.6,602.5 522.1,602.5 524.7,602.4 527.2,602.4 529.7,602.3 532.2,602.3 534.7,602.3 537.2,602.2 539.7,602.2 542.2,602.1 544.7,602.1 547.2,602.0 549.7,602.0 552.2,601.9 554.7,601.9 557.2,601.8 559.7,601.8 562.2,601.7 564.7,601.7 567.2,601.7 569.7,601.6 572.2,601.6 574.7,601.5 577.2,601.5 579.7,601.4 582.3,601.4 584.8,601.3 587.3,601.3 589.8,601.2 592.3,601.2 594.8,601.1 597.3,601.1 599.8,601.1 602.3,601.0 604.8,601.0 607.3,600.9 609.8,600.9 612.3,600.8 614.8,600.8 617.3,600.7 619.8,600.7 622.3,600.6 624.8,600.6 627.3,600.5 629.8,600.5 632.3,600.4 634.8,600.4 637.3,600.4 639.9,600.3 642.4,600.3 644.9,600.2 647.4,600.2 649.9,600.1 652.4,600.1 654.9,600.0 657.4,600.0 659.9,599.9 662.4,599.9 664.9,599.8 667.4,599.8 669.9,599.7 672.4,599.7 674.9,599.7 677.4,599.6 679.9,599.6 682.4,599.5 684.9,599.5 687.4,599.4 689.9,599.4 692.4,599.3 694.9,599.3 697.4,599.2 700.0,599.2 702.5,599.1 705.0,599.1 707.5,599.0 710.0,599.0 712.5,598.9 715.0,598.9 717.5,598.8 720.0,598.8 722.5,598.7 725.0,598.7 727.5,598.6 730.0,598.6 732.5,598.5 735.0,598.5 737.5,598.4 740.0,598.4 742.5,598.3 745.0,598.3 747.5,598.2 750.0,598.2 752.5,598.1 755.0,598.1 757.5,598.0 760.0,598.0 762.6,597.9 765.1,597.9 767.6,597.8 770.1,597.8 772.6,597.7 775.1,597.7 777.6,597.6 780.1,597.6 782.6,597.5 785.1,597.5 787.6,597.4 790.1,597.3 792.6,597.3 795.1,597.2 797.6,597.2 800.1,597.1 802.6,597.1 805.1,597.0 807.6,597.0 810.1,596.9 812.6,596.9 815.1,596.8 817.6,596.8 820.1,596.7 822.6,596.6 825.1,596.6 827.6,596.5 830.1,596.5 832.6,596.4 835.1,596.4 837.7,596.3 840.2,596.2 842.7,596.2 845.2,596.1 847.7,596.1 850.2,596.0 852.7,596.0 855.2,595.9 857.7,595.8 860.2,595.8 862.7,595.7 865.2,595.7 867.7,595.6 870.2,595.5 872.7,595.5 875.2,595.4 877.7,595.4 880.2,595.3 882.7,595.2 885.2,595.2 887.7,595.1 890.2,595.1 892.7,595.0 895.2,594.9 897.7,594.9 900.2,594.8 902.7,594.7 905.2,594.7 907.7,594.6 910.2,594.5 912.7,594.5 915.2,594.4 917.7,594.4 920.2,594.3 922.7,594.2 925.2,594.2 927.7,594.1 930.2,594.0 932.8,594.0 935.3,593.9 937.8,593.8 940.3,593.8 942.8,593.7 945.3,593.6 947.8,593.5 950.3,593.5 952.8,593.4 955.3,593.3 957.8,593.3 960.3,593.2 962.8,593.1 965.3,593.0 967.8,593.0 970.3,592.9 972.8,592.8 975.3,592.8 977.8,592.7 980.3,592.6 982.8,592.5 985.3,592.5 987.8,592.4 990.3,592.3 992.8,592.2 995.3,592.2 997.8,592.1 1000.3,592.0 1002.8,591.9 1005.3,591.8 1007.8,591.8 1010.3,591.7 1012.8,591.6 1015.3,591.5 1017.8,591.4 1020.3,591.4 1022.8,591.3 1025.3,591.2 1027.8,591.1 1030.3,591.0 1032.9,591.0 1035.4,590.9 1037.9,590.8 1040.4,590.7 1042.9,590.6 1045.4,590.5 1047.9,590.5 1050.4,590.4 1052.9,590.3 1055.4,590.2 1057.9,590.1 1060.4,590.0 1062.9,589.9 1065.4,589.8 1067.9,589.8 1070.4,589.7 1072.9,589.6 1075.4,589.5 1077.9,589.4 1080.4,589.3 1082.9,589.2 1085.4,589.1 1087.9,589.0 1090.4,588.9 1092.9,588.8 1095.4,588.7 1097.9,588.6 1100.4,588.5 1102.9,588.4 1105.4,588.3 1107.9,588.3 1110.4,588.2 1113.0,588.1 1115.5,588.0 1118.0,587.9 1120.5,587.8 1123.0,587.7 1125.5,587.6 1128.0,587.5 1130.5,587.3 1133.0,587.2 1135.5,587.1 1138.0,587.0 1140.5,586.9 1143.0,586.8 1145.5,586.7 1148.0,586.6 1150.5,586.5 1153.0,586.4 1155.5,586.3 1158.0,586.2 1160.5,586.1 1163.0,586.0 1165.5,585.9 1168.0,585.7 1170.5,585.6 1173.1,585.5 1175.6,585.4 1178.1,585.3 1180.6,585.2 1183.1,585.1 1185.6,584.9 1188.1,584.8 1190.6,584.7 1193.1,584.6 1195.6,584.5 1198.1,584.4 1200.6,584.2 1203.1,584.1 1205.6,584.0 1208.1,583.9 1210.6,583.8 1213.1,583.6 1215.6,583.5 1218.1,583.4 1220.6,583.3 1223.2,583.1 1225.7,583.0 1228.2,582.9 1230.7,582.7 1233.2,582.6 1235.7,582.4 1238.2,582.3 1240.7,582.1 1243.2,581.9 1245.7,581.7 1248.1,581.5 1250.6,581.2 1253.1,581.0 1255.6,580.7 1258.1,580.4 1260.5,580.1 1263.0,579.7 1265.4,579.3 1267.9,578.9 1270.3,578.5 1272.8,578.0 1275.2,577.5 1277.6,577.0 1280.1,576.4 1282.5,575.8 1284.9,575.2 1287.3,574.6 1289.7,573.9 1292.1,573.2 1294.5,572.5 1296.8,571.8 1299.2,571.0 1301.6,570.2 1303.9,569.4 1306.3,568.6 1308.6,567.7 1311.0,566.8 1313.3,565.9 1315.6,565.0 1318.0,564.1 1320.3,563.1 1322.6,562.1 1324.9,561.1 1327.2,560.1 1329.5,559.1 1331.8,558.0 1334.0,557.0 1336.3,555.9 1338.6,554.8 1340.8,553.7 1343.1,552.6 1345.3,551.4 1347.5,550.3 1349.8,549.1 1352.0,547.9 1354.2,546.7 1356.4,545.5 1358.6,544.3 1360.8,543.0 1363.0,541.8 1365.2,540.5 1367.3,539.2 1369.5,538.0 1371.7,536.7 1373.8,535.4 1375.9,534.1 1378.1,532.7 1380.2,531.4 1382.3,530.1 1384.4,528.7 1386.5,527.4 1388.6,526.0 1390.7,524.6 1392.8,523.2 1394.9,521.8 1396.9,520.4 1399.0,519.0 1401.0,517.5 1403.1,516.1 1405.1,514.6 1407.1,513.2 1409.1,511.7 1411.1,510.2 1413.1,508.7 1415.0,507.1 1417.0,505.6 1419.0,504.1 1420.9,502.5 1422.8,500.9 1424.7,499.4 1426.7,497.8 1428.6,496.1 1430.4,494.5 1432.3,492.9 1434.2,491.2 1436.0,489.6 1437.9,487.9 1439.7,486.2 1441.5,484.5 1443.3,482.8 1445.1,481.0 1446.9,479.3 1448.6,477.5 1450.4,475.7 1452.1,473.9 1453.9,472.1 1455.6,470.3 1457.3,468.5 1459.0,466.7 1460.7,464.8 1462.3,463.0 1464.0,461.1 1465.6,459.2 1467.3,457.3 1468.9,455.4 1470.5,453.5 1472.1,451.5 1473.7,449.6 1475.3,447.6 1476.9,445.7 1478.4,443.7 1480.0,441.7 1481.5,439.7 1483.0,437.7 1484.6,435.7 1486.1,433.7 1487.6,431.7 1489.0,429.7 1490.5,427.6 1492.0,425.6 1493.4,423.5 1494.9,421.4 1496.3,419.4 1497.7,417.3 1499.2,415.2 1500.6,413.1 1502.0,411.0 1503.3,408.9 1504.7,406.8 1506.1,404.6 1507.4,402.5 1508.8,400.4 1510.1,398.3 1511.5,396.1 1512.8,394.0 1514.1,391.8 1515.4,389.6 1516.7,387.5 1518.0,385.3 1519.2,383.1 1520.5,381.0 1521.8,378.8 1523.0,376.6 1524.3,374.4 1525.5,372.2 1526.7,370.0 1527.9,367.9 1529.1,365.7 1530.3,363.5 1531.5,361.3 1532.7,359.1 1533.9,356.9 1535.0,354.6 1536.2,352.4 1537.3,350.2 1538.5,348.0 1539.6,345.8 1540.7,343.6 1541.9,341.4 1543.0,339.2 1544.1,337.0 1545.2,334.7 1546.3,332.5 1547.4,330.3 1548.5,328.1 1549.6,325.9 1550.7,323.6 1551.8,321.4 1552.9,319.2 1553.9,317.0 1555.0,314.7 1556.1,312.5 1557.2,310.3 1558.3,308.0 1559.4,305.8 1560.5,303.6 1561.6,301.3 1562.6,299.1 1563.7,296.9 1564.8,294.6 1565.9,292.4 1567.0,290.2 1568.1,287.9 1569.3,285.7 1570.4,283.4 1571.5,281.2 1572.6,279.0 1573.8,276.7 1574.9,274.5 1576.0,272.2 1577.2,270.0 1578.4,267.7 1579.5,265.5 1580.7,263.2 1581.9,261.0 1583.1,258.7 1584.3,256.5 1585.5,254.2 1586.8,252.0 1588.0,249.7 1589.3,247.5 1590.5,245.2 1591.8,243.0 1593.1,240.7 1594.5,238.5 1595.9,236.4 1597.3,234.3 1598.8,232.3 1600.3,230.3 1601.9,228.4 1603.6,226.6 1605.4,224.9 1607.2,223.3 1609.1,221.9 1611.2,220.5 1613.3,219.3 1615.5,218.3 1617.9,217.5 1620.2,216.9 1622.6,216.9 1624.9,217.3 1627.1,218.1 1629.2,219.2 1631.1,220.6 1632.9,222.2 1634.6,223.9 1636.1,225.8 1637.6,227.8 1638.9,230.0 1640.1,232.2 1641.3,234.5 1642.4,236.9 1643.5,239.3 1644.5,241.8 1645.5,244.2 1646.5,246.7 1647.5,249.1 1648.4,251.5 1649.4,253.9 1650.3,256.3 1651.3,258.7 1652.2,261.0 1653.1,263.3 1654.0,265.7 1654.9,268.0 1655.8,270.3 1656.7,272.6 1657.6,274.9 1658.5,277.2 1659.3,279.5 1660.2,281.8 1661.0,284.1 1661.9,286.4 1662.7,288.7 1663.5,291.0 1664.4,293.3 1665.2,295.7 1666.0,298.0 1666.8,300.4 1667.6,302.7 1668.4,305.1 1669.2,307.4 1670.0,309.8 1670.8,312.2 1671.5,314.6 1672.3,316.9 1673.1,319.3 1673.9,321.7 1674.6,324.1 1675.4,326.5 1676.1,328.9 1676.9,331.3 1677.7,333.7 1678.4,336.1 1679.2,338.5 1680.0,341.0 1680.7,343.4 1681.5,345.8 1682.2,348.2 1683.0,350.6 1683.8,353.0 1684.5,355.4 1685.3,357.8 1686.1,360.2 1686.9,362.6 1687.6,365.0 1688.4,367.3 1689.2,369.7 1690.0,372.1 1690.8,374.5 1691.6,376.8 1692.4,379.2 1693.2,381.5 1694.0,383.9 1694.9,386.2 1695.7,388.5 1696.5,390.9 1697.4,393.2 1698.2,395.5 1699.1,397.8 1699.9,400.1 1700.8,402.4 1701.6,404.8 1702.5,407.1 1703.4,409.4 1704.2,411.7 1705.1,414.0 1706.0,416.4 1706.9,418.7 1707.7,421.0 1708.6,423.4 1709.5,425.7 1710.4,428.1 1711.3,430.4 1712.2,432.8 1713.0,435.2 1713.9,437.6 1714.8,440.0 1715.7,442.4 1716.6,444.9 1717.5,447.3 1718.4,449.7 1719.3,452.1 1720.3,454.5 1721.3,456.9 1722.3,459.2 1723.4,461.5 1724.5,463.8 1725.7,466.0 1726.9,468.2 1728.2,470.3 1729.5,472.3 1731.0,474.3 1732.5,476.2 1734.1,478.0 1735.8,479.7 1737.5,481.3 1739.3,482.9 1741.3,484.3 1743.2,485.7 1745.3,487.0 1747.4,488.2 1749.5,489.3 1751.8,490.4 1754.0,491.3 1756.3,492.2 1758.7,493.0 1761.1,493.8 1763.5,494.4 1766.0,495.0 1768.5,495.5 1771.0,495.9 1773.5,496.2 1776.1,496.5 1778.7,496.6 1781.2,496.7 1783.8,496.8 1786.4,496.7 1789.0,496.6 1791.5,496.5 1794.1,496.2 1796.6,495.9 1799.2,495.5 1801.7,495.0 1804.1,494.5 1806.6,493.9 1809.0,493.2 1811.4,492.5 1813.7,491.7 1816.0,490.8 1818.3,489.9 1820.5,488.9 1822.8,487.9 1825.0,486.8 1827.1,485.7 1829.3,484.6 1831.4,483.4 1833.6,482.2 1835.7,481.0 1837.8,479.8 1840.0,478.5 1842.1,477.3 1844.2,476.0 1846.4,474.7 1848.5,473.5 1850.7,472.2 1852.9,471.0 1855.1,469.7 1857.3,468.5 1859.6,467.3 1861.8,466.1 1864.1,465.0 1866.3,463.7 1868.6,462.5 1870.8,461.3 1873.0,460.0 1875.1,458.6 1877.2,457.2 1879.2,455.7 1881.2,454.2 1883.0,452.6 1884.8,450.8 1886.5,449.0 M1886.5,449.0L1887.1,451.5 1887.7,454.0 1888.2,456.5 1888.7,459.0 1889.1,461.5 1889.4,464.1 1889.7,466.6 1889.9,469.1 1890.0,471.6 1890.1,474.1 1890.1,476.6 1890.1,479.1 1890.0,481.6 1889.8,484.1 1889.6,486.6 1889.4,489.1 1889.0,491.6 1888.7,494.0 1888.2,496.5 1887.8,498.9 1887.2,501.4 1886.6,503.8 1886.0,506.2 1885.3,508.6 1884.6,510.9 1883.8,513.3 1883.0,515.6 1882.1,517.9 1881.2,520.2 1880.2,522.5 1879.2,524.7 1878.2,527.0 1877.1,529.2 1875.9,531.4 1874.7,533.5 1873.5,535.7 1872.3,537.8 1871.0,539.9 1869.6,542.0 1868.2,544.0 1866.8,546.0 1865.4,548.0 1863.9,550.0 1862.4,552.0 1860.8,553.9 1859.2,555.8 1857.6,557.7 1855.9,559.6 1854.2,561.4 1852.5,563.2 1850.8,565.0 1849.0,566.8 1847.2,568.5 1845.3,570.3 1843.5,572.0 1841.6,573.6 1839.7,575.3 1837.7,576.9 1835.8,578.5 1833.8,580.1 1831.8,581.6 1829.8,583.2 1827.7,584.7 1825.6,586.1 1823.5,587.6 1821.4,589.0 1819.3,590.4 1817.2,591.8 1815.0,593.1 1812.8,594.5 1810.6,595.8 1808.4,597.0 1806.2,598.3 1803.9,599.5 1801.7,600.7 1799.4,601.9 1797.2,603.0 1794.9,604.1 1792.6,605.2 1790.3,606.3 1788.0,607.3 1785.7,608.4 1783.3,609.3 1781.0,610.3 1778.7,611.2 1776.3,612.2 1774.0,613.0 1771.6,613.9 1769.3,614.7 1766.9,615.5 1764.5,616.3 1762.2,617.1 1759.8,617.8 1757.4,618.5 1755.0,619.2 1752.7,619.9 1750.3,620.6 1747.9,621.2 1745.5,621.8 1743.1,622.4 1740.6,623.0 1738.2,623.5 1735.8,624.1 1733.4,624.6 1731.0,625.1 1728.5,625.6 1726.1,626.0 1723.7,626.5 1721.2,626.9 1718.8,627.3 1716.4,627.8 1713.9,628.1 1711.5,628.5 1709.0,628.9 1706.5,629.3 1704.1,629.6 1701.6,629.9 1699.2,630.2 1696.7,630.6 1694.2,630.9 1691.7,631.2 1689.3,631.4 1686.8,631.7 1684.3,632.0 1681.8,632.2 1679.3,632.5 1676.9,632.7 1674.4,633.0 1671.9,633.2 1669.4,633.4 1666.9,633.6 1664.4,633.9 1661.9,634.1 1659.4,634.3 1656.9,634.5 1654.4,634.7 1651.9,634.9 1649.4,635.1 1646.9,635.3 1644.4,635.5 1641.9,635.7 1639.4,635.9 1636.9,636.1 1634.4,636.3 1631.9,636.5 1629.4,636.7 1626.8,636.9 1624.3,637.1 1621.8,637.3 1619.3,637.5 1616.8,637.7 1614.3,637.9 1611.8,638.1 1609.3,638.3 1606.8,638.5 1604.3,638.7 1601.8,638.9 1599.2,639.1 1596.7,639.3 1594.2,639.6 1591.7,639.8 1589.2,640.0 1586.7,640.2 1584.2,640.4 1581.7,640.6 1579.2,640.9 1576.7,641.1 1574.2,641.3 1571.7,641.5 1569.2,641.8 1566.7,642.0 1564.2,642.2 1561.7,642.5 1559.2,642.7 1556.8,642.9 1554.3,643.2 1551.8,643.4 1549.3,643.7 1546.8,643.9 1544.3,644.2 1541.9,644.4 1539.4,644.7 1536.9,645.0 1534.4,645.2 1531.9,645.5 1529.5,645.8 1527.0,646.1 1524.5,646.4 1522.1,646.7 1519.6,647.0 1517.1,647.3 1514.6,647.6 1512.2,648.0 1509.7,648.3 1507.2,648.6 1504.8,649.0 1502.3,649.4 1499.8,649.7 1497.4,650.1 1494.9,650.5 1492.4,650.9 1490.0,651.3 1487.5,651.7 1485.0,652.1 1482.6,652.6 1480.1,653.0 1477.6,653.5 1475.2,654.0 1472.7,654.4 1470.2,654.9 1467.8,655.4 1465.3,656.0 1462.8,656.5 1460.4,657.0 1457.9,657.6 1455.4,658.2 1453.0,658.8 1450.5,659.4 1448.0,660.0 1445.6,660.7 1443.2,661.4 1440.7,662.1 1438.3,662.8 1435.9,663.6 1433.6,664.5 1431.2,665.3 1428.9,666.2 1426.6,667.2 1424.3,668.2 1422.1,669.3 1419.8,670.4 1417.7,671.5 1415.5,672.7 1413.4,674.0 1411.3,675.4 1409.3,676.8 1407.3,678.2 1405.3,679.8 1403.4,681.4 1401.5,683.0 1399.7,684.7 1397.9,686.4 1396.2,688.2 1394.5,690.0 1392.8,691.9 1391.2,693.8 1389.6,695.8 1388.1,697.8 1386.7,699.8 1385.3,701.9 1383.9,704.0 1382.6,706.1 1381.3,708.2 1380.1,710.4 1378.9,712.6 1377.7,714.8 1376.6,717.0 1375.6,719.3 1374.5,721.6 1373.5,723.9 1372.6,726.2 1371.7,728.5 1370.8,730.9 1369.9,733.2 1369.0,735.6 1368.2,738.0 1367.4,740.4 1366.7,742.8 1365.9,745.2 1365.2,747.7 1364.5,750.1 1363.8,752.5 1363.1,755.0 1362.4,757.4 1361.8,759.8 1361.1,762.3 1360.5,764.7 1359.9,767.2 1359.3,769.6 1358.7,772.0 1358.1,774.5 1357.5,776.9 1356.9,779.4 1356.3,781.8 1355.8,784.2 1355.2,786.7 1354.6,789.1 1354.1,791.5 1353.6,794.0 1353.0,796.4 1352.5,798.9 1352.0,801.3 1351.5,803.7 1351.0,806.2 1350.5,808.6 1350.0,811.1 1349.5,813.5 1349.0,815.9 1348.5,818.4 1348.1,820.8 1347.6,823.3 1347.1,825.7 1346.7,828.2 1346.2,830.6 1345.7,833.1 1345.3,835.5 1344.8,838.0 1344.4,840.4 1344.0,842.9 1343.5,845.3 1343.1,847.8 1342.6,850.3 1342.2,852.7 1341.8,855.2 1341.4,857.6 1340.9,860.1 1340.5,862.6 1340.1,865.0 1339.6,867.5 1339.2,870.0 1338.8,872.4 1338.4,874.9 1337.9,877.4 1337.5,879.8 1337.1,882.3 1336.7,884.8 1336.2,887.2 1335.8,889.7 1335.4,892.2 1335.0,894.7 1334.5,897.1 1334.1,899.6 1333.7,902.1 1333.3,904.6 1332.9,907.0 1332.4,909.5 1332.0,912.0 1331.6,914.5 1331.2,916.9 1330.8,919.4 1330.3,921.9 1329.9,924.4 1329.5,926.9 1329.1,929.3 1328.7,931.8 1328.3,934.3 1327.9,936.8 1327.5,939.3 1327.1,941.7 1326.6,944.2 1326.2,946.7 1325.8,949.2 1325.4,951.7 1325.0,954.1 1324.7,956.6 1324.3,959.1 1323.9,961.6 1323.5,964.1 1323.1,966.5 1322.7,969.0 1322.3,971.5 1321.9,974.0 1321.6,976.5 1321.2,978.9 1320.8,981.4 1320.4,983.9 1320.1,986.4 1319.7,988.8 1319.3,991.3 1319.0,993.8 1318.6,996.3 1318.2,998.7 1317.9,1001.2 1317.5,1003.7 1317.2,1006.2 1316.8,1008.6 1316.5,1011.1 1316.2,1013.6 1315.8,1016.0 1315.5,1018.5 1315.2,1021.0 1314.8,1023.4 1314.5,1025.9 1314.2,1028.3 1313.9,1030.8 1313.6,1033.3 1313.2,1035.7 1312.9,1038.2 1312.6,1040.6 1312.3,1043.1 1312.0,1045.5 1311.8,1048.0 1311.5,1050.5 1311.2,1052.9 1310.9,1055.4 1310.6,1057.8 1310.3,1060.3 1310.0,1062.7 1309.7,1065.2 1309.4,1067.6 1309.1,1070.1 1308.8,1072.6 1308.5,1075.0 1308.2,1077.5 1307.8,1080.0 1307.5,1082.5 1307.1,1085.0 1306.7,1087.5 1306.3,1090.0 1305.9,1092.5 1305.4,1095.0 1305.0,1097.5 1304.5,1100.1 1304.0,1102.6 1303.5,1105.2 1302.9,1107.8 1302.4,1110.4 1301.7,1113.0 1301.1,1115.6 1300.4,1118.2 1299.7,1120.7 1298.9,1123.2 1298.0,1125.6 1297.1,1127.8 1296.0,1130.0 1294.8,1131.9 1293.6,1133.7 1292.1,1135.2 1290.6,1136.3 1289.1,1136.6 1287.7,1135.9 1286.4,1134.3 1285.2,1132.2 1284.2,1129.9 1283.2,1127.4 1282.4,1125.0 1281.7,1122.5 1281.1,1119.9 1280.5,1117.4 1280.0,1114.8 1279.5,1112.3 1279.0,1109.7 1278.6,1107.1 1278.1,1104.6 1277.7,1102.1 1277.3,1099.6 1276.9,1097.0 1276.5,1094.5 1276.1,1092.0 1275.7,1089.6 1275.3,1087.1 1275.0,1084.6 1274.6,1082.1 1274.2,1079.7 1273.9,1077.2 1273.5,1074.7 1273.2,1072.3 1272.9,1069.8 1272.5,1067.3 1272.2,1064.9 1271.9,1062.4 1271.5,1059.9 1271.2,1057.5 1270.9,1055.0 1270.6,1052.6 1270.2,1050.1 1269.9,1047.6 1269.6,1045.1 1269.3,1042.7 1269.0,1040.2 1268.7,1037.7 1268.4,1035.2 1268.0,1032.8 1267.7,1030.3 1267.4,1027.8 1267.1,1025.3 1266.8,1022.9 1266.5,1020.4 1266.2,1017.9 1265.9,1015.4 1265.6,1012.9 1265.3,1010.5 1265.0,1008.0 1264.7,1005.5 1264.4,1003.0 1264.2,1000.5 1263.9,998.0 1263.6,995.5 1263.3,993.0 1263.0,990.6 1262.7,988.1 1262.4,985.6 1262.1,983.1 1261.9,980.6 1261.6,978.1 1261.3,975.6 1261.0,973.1 1260.7,970.6 1260.4,968.1 1260.2,965.7 1259.9,963.2 1259.6,960.7 1259.3,958.2 1259.1,955.7 1258.8,953.2 1258.5,950.7 1258.2,948.2 1257.9,945.7 1257.7,943.2 1257.4,940.7 1257.1,938.2 1256.8,935.7 1256.6,933.2 1256.3,930.7 1256.0,928.3 1255.7,925.8 1255.5,923.3 1255.2,920.8 1254.9,918.3 1254.6,915.8 1254.3,913.3 1254.1,910.8 1253.8,908.3 1253.5,905.8 1253.2,903.3 1253.0,900.8 1252.7,898.4 1252.4,895.9 1252.1,893.4 1251.8,890.9 1251.5,888.4 1251.2,885.9 1250.9,883.4 1250.6,880.9 1250.3,878.5 1250.0,876.0 1249.7,873.5 1249.4,871.0 1249.1,868.5 1248.7,866.1 1248.4,863.6 1248.1,861.1 1247.7,858.6 1247.4,856.1 1247.0,853.7 1246.6,851.2 1246.3,848.7 1245.9,846.3 1245.5,843.8 1245.1,841.3 1244.7,838.9 1244.3,836.4 1243.9,833.9 1243.5,831.5 1243.0,829.0 1242.6,826.6 1242.2,824.1 1241.7,821.6 1241.2,819.2 1240.7,816.7 1240.3,814.3 1239.8,811.8 1239.2,809.4 1238.7,806.9 1238.2,804.5 1237.6,802.1 1237.1,799.6 1236.5,797.2 1235.9,794.8 1235.3,792.3 1234.7,789.9 1234.1,787.5 1233.5,785.0 1232.8,782.6 1232.2,780.2 1231.5,777.8 1230.8,775.4 1230.1,772.9 1229.4,770.5 1228.6,768.1 1227.9,765.7 1227.1,763.3 1226.3,760.9 1225.5,758.5 1224.7,756.1 1223.9,753.7 1223.0,751.3 1222.1,749.0 1221.2,746.6 1220.3,744.3 1219.3,741.9 1218.3,739.6 1217.3,737.3 1216.3,735.1 1215.2,732.8 1214.0,730.6 1212.8,728.4 1211.6,726.2 1210.4,724.1 1209.0,722.0 1207.7,719.9 1206.3,717.9 1204.8,715.9 1203.3,714.0 1201.7,712.1 1200.1,710.2 1198.4,708.4 1196.7,706.6 1194.9,704.9 1193.0,703.2 1191.1,701.6 1189.2,700.0 1187.2,698.5 1185.2,696.9 1183.1,695.5 1181.0,694.0 1178.9,692.6 1176.8,691.3 1174.6,690.0 1172.4,688.7 1170.2,687.4 1168.0,686.2 1165.8,685.0 1163.6,683.8 1161.4,682.6 1159.1,681.5 1156.9,680.4 1154.6,679.4 1152.4,678.4 1150.1,677.3 1147.8,676.4 1145.5,675.4 1143.2,674.5 1140.9,673.6 1138.5,672.7 1136.2,671.8 1133.9,671.0 1131.5,670.2 1129.2,669.4 1126.8,668.6 1124.4,667.9 1122.1,667.1 1119.7,666.4 1117.3,665.7 1114.9,665.1 1112.5,664.4 1110.1,663.8 1107.7,663.2 1105.3,662.6 1102.8,662.0 1100.4,661.4 1098.0,660.8 1095.5,660.3 1093.1,659.8 1090.7,659.2 1088.2,658.7 1085.8,658.2 1083.3,657.8 1080.8,657.3 1078.4,656.8 1075.9,656.4 1073.4,655.9 1071.0,655.5 1068.5,655.1 1066.0,654.7 1063.5,654.3 1061.1,653.8 1058.6,653.5 1056.1,653.1 1053.6,652.7 1051.1,652.3 1048.6,651.9 1046.2,651.5 1043.7,651.2 1041.2,650.8 1038.7,650.4 1036.2,650.1 1033.7,649.7 1031.2,649.4 1028.8,649.0 1026.3,648.6 1023.8,648.3 1021.3,647.9 1018.8,647.6 1016.3,647.2 1013.8,646.9 1011.4,646.5 1008.9,646.2 1006.4,645.8 1003.9,645.5 1001.4,645.2 998.9,644.8 996.4,644.5 994.0,644.1 991.5,643.8 989.0,643.5 986.5,643.2 984.0,642.8 981.5,642.5 979.0,642.2 976.6,641.9 974.1,641.5 971.6,641.2 969.1,640.9 966.6,640.6 964.1,640.3 961.6,640.0 959.2,639.7 956.7,639.4 954.2,639.1 951.7,638.8 949.2,638.5 946.7,638.2 944.2,637.9 941.8,637.6 939.3,637.3 936.8,637.0 934.3,636.7 931.8,636.4 929.3,636.1 926.8,635.8 924.4,635.6 921.9,635.3 919.4,635.0 916.9,634.7 914.4,634.5 911.9,634.2 909.4,633.9 907.0,633.7 904.5,633.4 902.0,633.2 899.5,632.9 897.0,632.7 894.5,632.4 892.0,632.1 889.5,631.9 887.1,631.7 884.6,631.4 882.1,631.2 879.6,630.9 877.1,630.7 874.6,630.5 872.1,630.2 869.6,630.0 867.1,629.8 864.7,629.6 862.2,629.3 859.7,629.1 857.2,628.9 854.7,628.7 852.2,628.5 849.7,628.3 847.2,628.1 844.7,627.8 842.2,627.6 839.7,627.4 837.3,627.3 834.8,627.1 832.3,626.9 829.8,626.7 827.3,626.5 824.8,626.3 822.3,626.1 819.8,625.9 817.3,625.8 814.8,625.6 812.3,625.4 809.8,625.2 807.3,625.1 804.8,624.9 802.3,624.8 799.8,624.6 797.3,624.4 794.8,624.3 792.4,624.1 789.9,624.0 787.4,623.8 784.9,623.7 782.4,623.5 779.9,623.4 777.4,623.2 774.9,623.1 772.4,623.0 769.9,622.8 767.4,622.7 764.9,622.6 762.4,622.4 759.9,622.3 757.4,622.2 754.9,622.1 752.4,621.9 749.9,621.8 747.4,621.7 744.9,621.6 742.4,621.5 739.9,621.4 737.4,621.2 734.9,621.1 732.4,621.0 729.9,620.9 727.4,620.8 724.9,620.7 722.4,620.6 719.9,620.5 717.4,620.4 714.9,620.3 712.4,620.2 709.9,620.1 707.4,620.0 704.9,619.9 702.4,619.8 699.9,619.8 697.3,619.7 694.8,619.6 692.3,619.5 689.8,619.4 687.3,619.3 684.8,619.2 682.3,619.2 679.8,619.1 677.3,619.0 674.8,618.9 672.3,618.8 669.8,618.8 667.3,618.7 664.8,618.6 662.3,618.5 659.8,618.5 657.3,618.4 654.8,618.3 652.3,618.2 649.8,618.2 647.3,618.1 644.8,618.0 642.3,618.0 639.8,617.9 637.3,617.8 634.7,617.8 632.2,617.7 629.7,617.6 627.2,617.6 624.7,617.5 622.2,617.5 619.7,617.4 617.2,617.3 614.7,617.3 612.2,617.2 609.7,617.1 607.2,617.1 604.7,617.0 602.2,617.0 599.7,616.9 597.2,616.8 594.7,616.8 592.2,616.7 589.7,616.7 587.2,616.6 584.6,616.5 582.1,616.5 579.6,616.4 577.1,616.4 574.6,616.3 572.1,616.3 569.6,616.2 567.1,616.1 564.6,616.1 562.1,616.0 559.6,616.0 557.1,615.9 554.6,615.8 552.1,615.8 549.6,615.7 547.1,615.7 544.6,615.6 542.1,615.5 539.6,615.5 537.1,615.4 534.6,615.3 532.0,615.3 529.5,615.2 527.0,615.2 524.5,615.1 522.0,615.0 519.5,615.0 517.0,614.9 514.5,614.8 512.0,614.8 509.5,614.7 507.0,614.6 504.5,614.6 502.0,614.5 499.5,614.4 497.0,614.4 494.5,614.3 492.0,614.2 489.5,614.1 487.0,614.1 484.5,614.0 482.0,613.9 479.5,613.8 477.0,613.8 474.5,613.7 472.0,613.6 469.5,613.5 467.0,613.4 464.5,613.3 462.0,613.3 459.5,613.2 457.0,613.1 454.5,613.0 452.0,612.9 449.5,612.8 447.0,612.7 444.5,612.6 442.0,612.5 439.5,612.4 437.0,612.4 434.5,612.3 432.0,612.2 429.5,612.1 427.0,611.9 424.5,611.8 422.0,611.7 419.5,611.6 417.0,611.5 414.5,611.4 412.0,611.3" fill="none" stroke="#2f7565" stroke-width="2.3" stroke-linejoin="round" stroke-linecap="round"/>
<path d="M412.0,604.6L414.5,604.5 417.0,604.5 419.5,604.4 422.0,604.4 424.5,604.3 427.0,604.3 429.5,604.2 432.0,604.2 434.5,604.1 437.0,604.1 439.5,604.0 442.1,604.0 444.6,603.9 447.1,603.9 449.6,603.9 452.1,603.8 454.6,603.8 457.1,603.7 459.6,603.7 462.1,603.6 464.6,603.6 467.1,603.5 469.6,603.5 472.1,603.4 474.6,603.4 477.1,603.3 479.6,603.3 482.1,603.2 484.6,603.2 487.1,603.1 489.6,603.1 492.1,603.0 494.6,603.0 497.1,602.9 499.7,602.9 502.2,602.8 504.7,602.8 507.2,602.8 509.7,602.7 512.2,602.7 514.7,602.6 517.2,602.6 519.7,602.5 522.2,602.5 524.7,602.4 527.2,602.4 529.7,602.3 532.2,602.3 534.7,602.2 537.2,602.2 539.7,602.1 542.2,602.1 544.7,602.1 547.2,602.0 549.7,602.0 552.3,601.9 554.8,601.9 557.3,601.8 559.8,601.8 562.3,601.7 564.8,601.7 567.3,601.6 569.8,601.6 572.3,601.6 574.8,601.5 577.3,601.5 579.8,601.4 582.3,601.4 584.8,601.3 587.3,601.3 589.8,601.2 592.3,601.2 594.8,601.1 597.3,601.1 599.8,601.0 602.3,601.0 604.9,601.0 607.4,600.9 609.9,600.9 612.4,600.8 614.9,600.8 617.4,600.7 619.9,600.7 622.4,600.6 624.9,600.6 627.4,600.5 629.9,600.5 632.4,600.5 634.9,600.4 637.4,600.4 639.9,600.3 642.4,600.3 644.9,600.2 647.4,600.2 649.9,600.1 652.4,600.1 655.0,600.0 657.5,600.0 660.0,599.9 662.5,599.9 665.0,599.8 667.5,599.8 670.0,599.8 672.5,599.7 675.0,599.7 677.5,599.6 680.0,599.6 682.5,599.5 685.0,599.5 687.5,599.4 690.0,599.4 692.5,599.3 695.0,599.3 697.5,599.2 700.0,599.2 702.5,599.1 705.0,599.1 707.6,599.0 710.1,599.0 712.6,598.9 715.1,598.9 717.6,598.8 720.1,598.8 722.6,598.7 725.1,598.7 727.6,598.6 730.1,598.6 732.6,598.5 735.1,598.5 737.6,598.4 740.1,598.4 742.6,598.3 745.1,598.3 747.6,598.2 750.1,598.2 752.6,598.1 755.1,598.1 757.6,598.0 760.1,598.0 762.7,597.9 765.2,597.9 767.7,597.8 770.2,597.8 772.7,597.7 775.2,597.7 777.7,597.6 780.2,597.6 782.7,597.5 785.2,597.5 787.7,597.4 790.2,597.4 792.7,597.3 795.2,597.3 797.7,597.2 800.2,597.1 802.7,597.1 805.2,597.0 807.7,597.0 810.2,596.9 812.7,596.9 815.2,596.8 817.7,596.8 820.3,596.7 822.8,596.6 825.3,596.6 827.8,596.5 830.3,596.5 832.8,596.4 835.3,596.4 837.8,596.3 840.3,596.2 842.8,596.2 845.3,596.1 847.8,596.1 850.3,596.0 852.8,596.0 855.3,595.9 857.8,595.8 860.3,595.8 862.8,595.7 865.3,595.7 867.8,595.6 870.3,595.5 872.8,595.5 875.3,595.4 877.8,595.4 880.4,595.3 882.9,595.2 885.4,595.2 887.9,595.1 890.4,595.0 892.9,595.0 895.4,594.9 897.9,594.9 900.4,594.8 902.9,594.7 905.4,594.7 907.9,594.6 910.4,594.5 912.9,594.5 915.4,594.4 917.9,594.3 920.4,594.3 922.9,594.2 925.4,594.1 927.9,594.1 930.4,594.0 932.9,593.9 935.4,593.9 937.9,593.8 940.4,593.7 942.9,593.7 945.5,593.6 948.0,593.5 950.5,593.4 953.0,593.4 955.5,593.3 958.0,593.2 960.5,593.2 963.0,593.1 965.5,593.0 968.0,592.9 970.5,592.9 973.0,592.8 975.5,592.7 978.0,592.7 980.5,592.6 983.0,592.5 985.5,592.4 988.0,592.4 990.5,592.3 993.0,592.2 995.5,592.1 998.0,592.0 1000.5,592.0 1003.0,591.9 1005.5,591.8 1008.0,591.7 1010.5,591.7 1013.0,591.6 1015.6,591.5 1018.1,591.4 1020.6,591.3 1023.1,591.3 1025.6,591.2 1028.1,591.1 1030.6,591.0 1033.1,590.9 1035.6,590.8 1038.1,590.8 1040.6,590.7 1043.1,590.6 1045.6,590.5 1048.1,590.4 1050.6,590.3 1053.1,590.2 1055.6,590.2 1058.1,590.1 1060.6,590.0 1063.1,589.9 1065.6,589.8 1068.1,589.7 1070.6,589.6 1073.1,589.5 1075.6,589.4 1078.1,589.4 1080.6,589.3 1083.2,589.2 1085.7,589.1 1088.2,589.0 1090.7,588.9 1093.2,588.8 1095.7,588.7 1098.2,588.6 1100.7,588.5 1103.2,588.4 1105.7,588.3 1108.2,588.2 1110.7,588.1 1113.2,588.0 1115.7,587.9 1118.2,587.8 1120.7,587.7 1123.2,587.6 1125.7,587.5 1128.2,587.4 1130.7,587.3 1133.2,587.2 1135.7,587.1 1138.2,587.0 1140.7,586.9 1143.2,586.8 1145.7,586.7 1148.2,586.6 1150.8,586.5 1153.3,586.4 1155.8,586.3 1158.3,586.2 1160.8,586.1 1163.3,586.0 1165.8,585.9 1168.3,585.7 1170.8,585.6 1173.3,585.5 1175.8,585.4 1178.3,585.3 1180.8,585.2 1183.3,585.1 1185.8,585.0 1188.3,584.8 1190.8,584.7 1193.3,584.6 1195.8,584.5 1198.3,584.4 1200.8,584.3 1203.3,584.2 1205.8,584.0 1208.3,583.9 1210.8,583.8 1213.3,583.7 1215.9,583.6 1218.4,583.4 1220.9,583.3 1223.4,583.2 1225.9,583.1 1228.4,582.9 1230.9,582.8 1233.4,582.7 1235.9,582.5 1238.4,582.3 1240.9,582.1 1243.4,582.0 1245.9,581.7 1248.3,581.5 1250.8,581.3 1253.3,581.0 1255.8,580.7 1258.3,580.4 1260.7,580.0 1263.2,579.6 1265.7,579.2 1268.1,578.8 1270.6,578.3 1273.1,577.8 1275.5,577.2 1277.9,576.7 1280.4,576.1 1282.8,575.4 1285.2,574.7 1287.6,574.0 1290.0,573.3 1292.4,572.6 1294.8,571.8 1297.2,571.0 1299.5,570.1 1301.9,569.3 1304.2,568.4 1306.6,567.5 1308.9,566.6 1311.2,565.6 1313.5,564.6 1315.7,563.6 1318.0,562.6 1320.3,561.6 1322.5,560.5 1324.7,559.4 1327.0,558.4 1329.2,557.2 1331.4,556.1 1333.6,555.0 1335.8,553.8 1337.9,552.6 1340.1,551.4 1342.3,550.2 1344.4,549.0 1346.6,547.8 1348.7,546.5 1350.9,545.2 1353.0,544.0 1355.1,542.7 1357.3,541.4 1359.4,540.1 1361.5,538.7 1363.6,537.4 1365.7,536.1 1367.8,534.7 1370.0,533.4 1372.1,532.0 1374.2,530.6 1376.3,529.2 1378.4,527.8 1380.5,526.4 1382.6,525.0 1384.7,523.6 1386.8,522.2 1388.9,520.7 1391.0,519.3 1393.1,517.8 1395.2,516.4 1397.3,514.9 1399.4,513.4 1401.4,511.9 1403.5,510.4 1405.5,508.9 1407.6,507.4 1409.6,505.9 1411.6,504.3 1413.7,502.8 1415.7,501.2 1417.7,499.6 1419.7,498.1 1421.6,496.5 1423.6,494.9 1425.6,493.2 1427.5,491.6 1429.4,490.0 1431.3,488.3 1433.2,486.7 1435.1,485.0 1437.0,483.3 1438.9,481.6 1440.7,479.9 1442.5,478.2 1444.3,476.5 1446.1,474.7 1447.9,472.9 1449.7,471.2 1451.4,469.4 1453.1,467.6 1454.9,465.8 1456.6,464.0 1458.2,462.2 1459.9,460.3 1461.6,458.5 1463.2,456.6 1464.8,454.8 1466.5,452.9 1468.1,451.0 1469.6,449.1 1471.2,447.2 1472.8,445.3 1474.3,443.3 1475.9,441.4 1477.4,439.4 1478.9,437.5 1480.4,435.5 1481.9,433.5 1483.3,431.5 1484.8,429.5 1486.2,427.5 1487.6,425.5 1489.1,423.5 1490.5,421.5 1491.9,419.4 1493.2,417.4 1494.6,415.3 1496.0,413.2 1497.3,411.2 1498.6,409.1 1500.0,407.0 1501.3,404.9 1502.6,402.8 1503.9,400.7 1505.2,398.5 1506.4,396.4 1507.7,394.3 1508.9,392.1 1510.2,390.0 1511.4,387.8 1512.6,385.6 1513.8,383.5 1515.0,381.3 1516.2,379.1 1517.4,376.9 1518.6,374.7 1519.8,372.5 1520.9,370.3 1522.1,368.1 1523.2,365.8 1524.3,363.6 1525.4,361.4 1526.6,359.1 1527.7,356.9 1528.8,354.6 1529.8,352.4 1530.9,350.1 1532.0,347.8 1533.1,345.6 1534.1,343.3 1535.2,341.0 1536.2,338.7 1537.3,336.4 1538.3,334.1 1539.3,331.8 1540.3,329.5 1541.3,327.2 1542.3,324.9 1543.3,322.6 1544.3,320.3 1545.3,318.0 1546.3,315.6 1547.3,313.3 1548.2,311.0 1549.2,308.6 1550.2,306.3 1551.1,303.9 1552.1,301.6 1553.0,299.2 1554.0,296.9 1554.9,294.5 1555.8,292.2 1556.8,289.8 1557.7,287.5 1558.6,285.1 1559.5,282.7 1560.4,280.4 1561.3,278.0 1562.2,275.6 1563.1,273.3 1564.0,270.9 1564.9,268.5 1565.8,266.1 1566.7,263.8 1567.6,261.4 1568.5,259.0 1569.4,256.6 1570.2,254.3 1571.1,251.9 1572.0,249.5 1572.9,247.1 1573.7,244.7 1574.6,242.4 1575.5,240.0 1576.3,237.6 1577.2,235.2 1578.1,232.8 1578.9,230.5 1579.8,228.1 1580.6,225.7 1581.5,223.3 1582.4,220.9 1583.2,218.6 1584.1,216.2 1584.9,213.8 1585.8,211.5 1586.7,209.1 1587.5,206.7 1588.4,204.3 1589.2,202.0 1590.1,199.6 1591.0,197.3 1591.8,194.9 1592.7,192.5 1593.6,190.2 1594.4,187.8 1595.3,185.5 1596.2,183.2 1597.2,180.9 1598.2,178.6 1599.2,176.3 1600.2,174.1 1601.3,171.9 1602.5,169.7 1603.7,167.6 1605.0,165.5 1606.3,163.5 1607.8,161.5 1609.3,159.5 1610.9,157.6 1612.6,155.8 1614.4,154.0 1616.3,152.3 1618.3,150.7 1620.4,149.3 1622.5,148.2 1624.6,147.6 1626.6,147.5 1628.5,148.0 1630.4,149.0 1632.1,150.4 1633.8,152.1 1635.3,154.0 1636.8,156.0 1638.3,158.1 1639.6,160.2 1640.8,162.4 1642.0,164.6 1643.1,166.8 1644.2,169.1 1645.2,171.4 1646.1,173.8 1647.0,176.1 1647.8,178.5 1648.6,180.9 1649.3,183.4 1650.0,185.8 1650.7,188.3 1651.3,190.8 1651.9,193.3 1652.5,195.8 1653.1,198.3 1653.6,200.8 1654.1,203.4 1654.6,205.9 1655.1,208.4 1655.6,211.0 1656.1,213.5 1656.6,216.0 1657.1,218.5 1657.6,221.0 1658.1,223.5 1658.6,226.0 1659.2,228.5 1659.7,231.0 1660.3,233.4 1660.8,235.9 1661.4,238.3 1662.0,240.8 1662.5,243.2 1663.1,245.6 1663.7,248.0 1664.3,250.4 1664.9,252.9 1665.5,255.3 1666.1,257.7 1666.7,260.1 1667.2,262.5 1667.8,264.9 1668.4,267.3 1669.0,269.7 1669.6,272.1 1670.2,274.5 1670.7,276.9 1671.3,279.3 1671.9,281.7 1672.4,284.1 1673.0,286.5 1673.5,288.9 1674.1,291.3 1674.6,293.7 1675.1,296.1 1675.6,298.6 1676.1,301.0 1676.5,303.5 1677.0,305.9 1677.4,308.4 1677.9,310.9 1678.3,313.3 1678.7,315.8 1679.1,318.3 1679.5,320.8 1679.9,323.3 1680.3,325.8 1680.7,328.3 1681.1,330.8 1681.4,333.4 1681.8,335.9 1682.2,338.4 1682.6,340.9 1683.0,343.4 1683.4,345.9 1683.9,348.4 1684.3,350.9 1684.7,353.4 1685.2,355.9 1685.7,358.3 1686.2,360.8 1686.7,363.3 1687.3,365.7 1687.9,368.2 1688.5,370.6 1689.1,373.0 1689.7,375.4 1690.4,377.8 1691.1,380.2 1691.9,382.5 1692.7,384.9 1693.5,387.2 1694.3,389.5 1695.2,391.8 1696.1,394.1 1697.0,396.4 1698.0,398.7 1699.0,401.0 1699.9,403.3 1700.9,405.5 1701.9,407.8 1702.9,410.1 1704.0,412.3 1705.0,414.6 1706.0,416.9 1707.0,419.2 1708.0,421.5 1709.0,423.8 1710.0,426.1 1711.0,428.5 1712.0,430.8 1712.9,433.2 1713.9,435.6 1714.8,438.0 1715.7,440.4 1716.5,442.8 1717.4,445.3 1718.2,447.7 1719.0,450.2 1719.9,452.7 1720.7,455.1 1721.6,457.5 1722.5,459.9 1723.4,462.3 1724.4,464.6 1725.5,466.8 1726.6,469.0 1727.8,471.2 1729.1,473.2 1730.4,475.2 1731.9,477.1 1733.4,478.9 1735.1,480.6 1736.9,482.3 1738.7,483.8 1740.7,485.2 1742.8,486.5 1744.9,487.8 1747.1,488.9 1749.3,490.0 1751.7,491.0 1754.0,491.9 1756.4,492.7 1758.9,493.4 1761.4,494.1 1763.9,494.7 1766.4,495.2 1769.0,495.6 1771.5,496.0 1774.0,496.3 1776.6,496.6 1779.1,496.8 1781.6,496.9 1784.1,496.9 1786.7,496.9 1789.1,496.8 1791.6,496.7 1794.1,496.4 1796.5,496.1 1799.0,495.8 1801.4,495.3 1803.8,494.8 1806.2,494.2 1808.6,493.6 1810.9,492.8 1813.2,492.0 1815.5,491.1 1817.8,490.2 1820.1,489.2 1822.4,488.1 1824.6,487.0 1826.9,485.9 1829.1,484.7 1831.3,483.5 1833.5,482.3 1835.7,481.0 1837.9,479.7 1840.1,478.4 1842.3,477.1 1844.5,475.9 1846.6,474.6 1848.8,473.3 1851.0,472.0 1853.2,470.8 1855.4,469.6 1857.6,468.4 1859.8,467.2 1862.0,466.0 1864.2,464.9 1866.4,463.7 1868.5,462.5 1870.7,461.3 1872.8,460.0 1874.9,458.7 1877.0,457.3 1879.0,455.9 1880.9,454.3 1882.8,452.7 1884.7,450.9 1886.5,449.0 M1886.5,449.0L1887.1,451.5 1887.7,454.1 1888.2,456.6 1888.6,459.2 1889.0,461.7 1889.3,464.2 1889.6,466.7 1889.8,469.3 1889.9,471.8 1890.0,474.3 1890.0,476.8 1890.0,479.3 1889.9,481.8 1889.8,484.3 1889.6,486.7 1889.3,489.2 1889.0,491.6 1888.7,494.1 1888.3,496.5 1887.8,498.9 1887.3,501.3 1886.7,503.7 1886.1,506.1 1885.5,508.5 1884.7,510.8 1884.0,513.2 1883.2,515.5 1882.3,517.8 1881.4,520.1 1880.5,522.3 1879.5,524.6 1878.4,526.8 1877.3,529.0 1876.2,531.2 1875.0,533.4 1873.8,535.6 1872.5,537.7 1871.2,539.8 1869.8,541.9 1868.4,544.0 1867.0,546.0 1865.5,548.1 1864.0,550.1 1862.5,552.0 1860.9,554.0 1859.2,555.9 1857.6,557.8 1855.9,559.7 1854.2,561.6 1852.4,563.4 1850.6,565.2 1848.8,567.0 1847.0,568.7 1845.1,570.5 1843.2,572.2 1841.3,573.9 1839.3,575.5 1837.4,577.2 1835.4,578.8 1833.4,580.3 1831.3,581.9 1829.3,583.4 1827.2,584.9 1825.1,586.4 1823.0,587.8 1820.9,589.2 1818.8,590.6 1816.7,591.9 1814.5,593.2 1812.4,594.5 1810.2,595.8 1808.0,597.0 1805.8,598.3 1803.6,599.4 1801.4,600.6 1799.2,601.7 1796.9,602.8 1794.7,603.9 1792.4,605.0 1790.2,606.0 1787.9,607.0 1785.6,608.0 1783.3,608.9 1781.0,609.9 1778.7,610.8 1776.4,611.7 1774.1,612.5 1771.8,613.4 1769.4,614.2 1767.1,615.0 1764.7,615.8 1762.4,616.5 1760.0,617.3 1757.7,618.0 1755.3,618.7 1752.9,619.4 1750.5,620.1 1748.1,620.7 1745.7,621.3 1743.3,622.0 1740.9,622.6 1738.5,623.1 1736.1,623.7 1733.7,624.3 1731.3,624.8 1728.9,625.3 1726.4,625.8 1724.0,626.3 1721.6,626.8 1719.1,627.3 1716.7,627.7 1714.2,628.2 1711.8,628.6 1709.3,629.0 1706.8,629.4 1704.4,629.8 1701.9,630.2 1699.5,630.5 1697.0,630.9 1694.5,631.2 1692.0,631.5 1689.5,631.9 1687.1,632.2 1684.6,632.5 1682.1,632.8 1679.6,633.1 1677.1,633.3 1674.6,633.6 1672.1,633.9 1669.6,634.1 1667.1,634.3 1664.6,634.6 1662.1,634.8 1659.6,635.0 1657.1,635.3 1654.6,635.5 1652.1,635.7 1649.6,635.9 1647.1,636.1 1644.5,636.2 1642.0,636.4 1639.5,636.6 1637.0,636.8 1634.5,637.0 1632.0,637.1 1629.4,637.3 1626.9,637.5 1624.4,637.6 1621.9,637.8 1619.4,637.9 1616.8,638.1 1614.3,638.2 1611.8,638.4 1609.3,638.6 1606.8,638.7 1604.3,638.9 1601.7,639.0 1599.2,639.2 1596.7,639.3 1594.2,639.5 1591.7,639.6 1589.2,639.8 1586.7,640.0 1584.1,640.1 1581.6,640.3 1579.1,640.5 1576.6,640.6 1574.1,640.8 1571.6,641.0 1569.1,641.2 1566.6,641.4 1564.1,641.6 1561.6,641.8 1559.1,642.0 1556.6,642.2 1554.1,642.4 1551.7,642.6 1549.2,642.9 1546.7,643.1 1544.2,643.3 1541.7,643.6 1539.3,643.9 1536.8,644.1 1534.3,644.4 1531.9,644.7 1529.4,645.0 1527.0,645.3 1524.5,645.6 1522.0,645.9 1519.6,646.2 1517.1,646.5 1514.7,646.9 1512.2,647.2 1509.8,647.5 1507.3,647.9 1504.8,648.2 1502.4,648.6 1499.9,648.9 1497.5,649.3 1495.0,649.7 1492.5,650.0 1490.1,650.4 1487.6,650.8 1485.1,651.1 1482.6,651.5 1480.1,651.9 1477.7,652.3 1475.2,652.6 1472.7,653.0 1470.2,653.4 1467.7,653.8 1465.1,654.2 1462.6,654.5 1460.1,654.9 1457.6,655.3 1455.1,655.7 1452.5,656.1 1450.0,656.6 1447.5,657.0 1445.0,657.5 1442.5,658.0 1440.0,658.5 1437.5,659.1 1435.1,659.6 1432.6,660.3 1430.2,661.0 1427.8,661.7 1425.4,662.4 1423.1,663.2 1420.7,664.1 1418.4,665.0 1416.2,666.0 1413.9,667.1 1411.7,668.2 1409.5,669.4 1407.4,670.6 1405.3,671.9 1403.2,673.3 1401.2,674.7 1399.2,676.2 1397.2,677.7 1395.3,679.3 1393.5,680.9 1391.6,682.6 1389.9,684.3 1388.1,686.1 1386.4,687.9 1384.8,689.8 1383.2,691.7 1381.6,693.6 1380.1,695.6 1378.7,697.6 1377.3,699.6 1375.9,701.7 1374.6,703.8 1373.4,705.9 1372.2,708.1 1371.0,710.3 1369.9,712.5 1368.9,714.7 1367.9,717.0 1366.9,719.3 1365.9,721.6 1365.0,723.9 1364.1,726.2 1363.3,728.6 1362.5,731.0 1361.7,733.3 1360.9,735.7 1360.2,738.2 1359.5,740.6 1358.8,743.0 1358.1,745.5 1357.5,747.9 1356.9,750.4 1356.3,752.8 1355.6,755.3 1355.1,757.8 1354.5,760.2 1353.9,762.7 1353.3,765.2 1352.8,767.6 1352.2,770.1 1351.7,772.6 1351.1,775.0 1350.6,777.5 1350.1,780.0 1349.5,782.4 1349.0,784.9 1348.5,787.4 1348.0,789.8 1347.5,792.3 1347.0,794.8 1346.5,797.2 1346.1,799.7 1345.6,802.2 1345.1,804.6 1344.7,807.1 1344.2,809.6 1343.8,812.0 1343.3,814.5 1342.9,816.9 1342.4,819.4 1342.0,821.9 1341.6,824.3 1341.1,826.8 1340.7,829.3 1340.3,831.7 1339.9,834.2 1339.5,836.7 1339.1,839.1 1338.7,841.6 1338.3,844.1 1337.9,846.5 1337.5,849.0 1337.1,851.5 1336.8,853.9 1336.4,856.4 1336.0,858.9 1335.6,861.3 1335.3,863.8 1334.9,866.3 1334.5,868.7 1334.2,871.2 1333.8,873.7 1333.5,876.1 1333.1,878.6 1332.8,881.1 1332.4,883.5 1332.1,886.0 1331.7,888.5 1331.4,891.0 1331.0,893.4 1330.7,895.9 1330.4,898.4 1330.0,900.8 1329.7,903.3 1329.3,905.8 1329.0,908.3 1328.7,910.7 1328.3,913.2 1328.0,915.7 1327.7,918.2 1327.3,920.6 1327.0,923.1 1326.7,925.6 1326.3,928.1 1326.0,930.5 1325.7,933.0 1325.3,935.5 1325.0,938.0 1324.7,940.4 1324.3,942.9 1324.0,945.4 1323.7,947.9 1323.3,950.4 1323.0,952.8 1322.7,955.3 1322.3,957.8 1322.0,960.3 1321.7,962.8 1321.3,965.3 1321.0,967.7 1320.7,970.2 1320.4,972.7 1320.0,975.2 1319.7,977.7 1319.4,980.2 1319.0,982.6 1318.7,985.1 1318.4,987.6 1318.0,990.1 1317.7,992.6 1317.4,995.1 1317.1,997.6 1316.7,1000.1 1316.4,1002.5 1316.1,1005.0 1315.8,1007.5 1315.4,1010.0 1315.1,1012.5 1314.8,1015.0 1314.5,1017.5 1314.1,1019.9 1313.8,1022.4 1313.5,1024.9 1313.2,1027.4 1312.9,1029.9 1312.6,1032.4 1312.2,1034.9 1311.9,1037.4 1311.6,1039.9 1311.3,1042.3 1311.0,1044.8 1310.7,1047.3 1310.4,1049.8 1310.1,1052.3 1309.8,1054.8 1309.5,1057.3 1309.2,1059.8 1308.9,1062.2 1308.6,1064.7 1308.3,1067.2 1308.0,1069.7 1307.7,1072.2 1307.4,1074.7 1307.1,1077.2 1306.8,1079.7 1306.5,1082.1 1306.2,1084.6 1305.9,1087.1 1305.6,1089.6 1305.3,1092.1 1305.1,1094.6 1304.8,1097.1 1304.5,1099.5 1304.2,1102.0 1304.0,1104.5 1303.7,1107.0 1303.4,1109.5 1303.1,1112.0 1302.9,1114.4 1302.6,1116.9 1302.3,1119.4 1302.1,1121.9 1301.8,1124.4 1301.6,1126.9 1301.3,1129.3 1301.1,1131.8 1300.8,1134.3 1300.5,1136.8 1300.3,1139.3 1300.0,1141.7 1299.8,1144.2 1299.5,1146.7 1299.3,1149.2 1299.0,1151.7 1298.7,1154.2 1298.5,1156.6 1298.2,1159.1 1297.9,1161.6 1297.6,1164.1 1297.4,1166.6 1297.1,1169.1 1296.8,1171.5 1296.5,1174.0 1296.2,1176.5 1295.9,1179.0 1295.6,1181.5 1295.3,1184.0 1295.0,1186.5 1294.6,1189.0 1294.3,1191.5 1294.0,1194.0 1293.6,1196.5 1293.2,1199.0 1292.9,1201.5 1292.5,1204.0 1292.1,1206.5 1291.7,1209.0 1291.3,1211.5 1290.8,1213.9 1290.3,1216.4 1289.8,1218.9 1289.2,1221.3 1288.5,1223.8 1287.8,1226.2 1287.0,1228.6 1286.1,1231.0 1285.1,1233.3 1284.0,1235.5 1282.8,1237.0 1281.6,1237.2 1280.4,1236.1 1279.3,1234.0 1278.3,1231.6 1277.4,1229.1 1276.6,1226.5 1275.8,1223.9 1275.2,1221.3 1274.6,1218.8 1274.1,1216.2 1273.6,1213.7 1273.1,1211.2 1272.7,1208.7 1272.3,1206.2 1272.0,1203.7 1271.6,1201.3 1271.3,1198.8 1271.0,1196.4 1270.7,1193.9 1270.5,1191.5 1270.2,1189.0 1269.9,1186.6 1269.7,1184.1 1269.4,1181.7 1269.1,1179.2 1268.8,1176.7 1268.6,1174.3 1268.3,1171.8 1268.0,1169.3 1267.8,1166.9 1267.5,1164.4 1267.2,1161.9 1267.0,1159.5 1266.7,1157.0 1266.5,1154.5 1266.2,1152.0 1265.9,1149.5 1265.7,1147.0 1265.4,1144.5 1265.2,1142.1 1264.9,1139.6 1264.7,1137.1 1264.4,1134.6 1264.2,1132.1 1263.9,1129.6 1263.7,1127.1 1263.4,1124.6 1263.2,1122.1 1262.9,1119.6 1262.7,1117.1 1262.4,1114.6 1262.2,1112.1 1261.9,1109.6 1261.7,1107.1 1261.4,1104.5 1261.2,1102.0 1261.0,1099.5 1260.7,1097.0 1260.5,1094.5 1260.2,1092.0 1260.0,1089.5 1259.8,1087.0 1259.5,1084.5 1259.3,1082.0 1259.1,1079.4 1258.8,1076.9 1258.6,1074.4 1258.3,1071.9 1258.1,1069.4 1257.9,1066.9 1257.7,1064.4 1257.4,1061.9 1257.2,1059.4 1257.0,1056.9 1256.7,1054.4 1256.5,1051.9 1256.3,1049.3 1256.0,1046.8 1255.8,1044.3 1255.6,1041.8 1255.4,1039.3 1255.1,1036.8 1254.9,1034.3 1254.7,1031.8 1254.5,1029.3 1254.2,1026.8 1254.0,1024.3 1253.8,1021.8 1253.6,1019.4 1253.4,1016.9 1253.1,1014.4 1252.9,1011.9 1252.7,1009.4 1252.5,1006.9 1252.3,1004.4 1252.0,1002.0 1251.8,999.5 1251.6,997.0 1251.4,994.5 1251.2,992.0 1250.9,989.6 1250.7,987.1 1250.5,984.6 1250.3,982.1 1250.1,979.7 1249.9,977.2 1249.6,974.7 1249.4,972.3 1249.2,969.8 1249.0,967.3 1248.8,964.8 1248.5,962.4 1248.3,959.9 1248.1,957.4 1247.9,955.0 1247.6,952.5 1247.4,950.0 1247.2,947.6 1247.0,945.1 1246.7,942.6 1246.5,940.2 1246.3,937.7 1246.1,935.2 1245.8,932.8 1245.6,930.3 1245.4,927.8 1245.1,925.4 1244.9,922.9 1244.7,920.4 1244.4,917.9 1244.2,915.5 1243.9,913.0 1243.7,910.5 1243.5,908.0 1243.2,905.6 1243.0,903.1 1242.7,900.6 1242.5,898.1 1242.2,895.6 1242.0,893.2 1241.7,890.7 1241.5,888.2 1241.2,885.7 1240.9,883.2 1240.7,880.7 1240.4,878.2 1240.1,875.7 1239.9,873.2 1239.6,870.7 1239.3,868.2 1239.0,865.7 1238.8,863.2 1238.5,860.7 1238.2,858.2 1237.9,855.7 1237.6,853.2 1237.3,850.7 1237.0,848.2 1236.7,845.7 1236.4,843.1 1236.1,840.6 1235.8,838.1 1235.5,835.6 1235.2,833.0 1234.9,830.5 1234.6,827.9 1234.3,825.4 1233.9,822.9 1233.6,820.3 1233.3,817.8 1232.9,815.3 1232.5,812.7 1232.2,810.2 1231.8,807.7 1231.4,805.1 1231.0,802.6 1230.5,800.1 1230.1,797.6 1229.7,795.1 1229.2,792.6 1228.7,790.1 1228.2,787.6 1227.7,785.1 1227.1,782.7 1226.6,780.2 1226.0,777.8 1225.4,775.3 1224.8,772.9 1224.1,770.5 1223.4,768.1 1222.7,765.7 1222.0,763.3 1221.2,761.0 1220.5,758.6 1219.6,756.3 1218.8,754.0 1217.9,751.7 1217.0,749.4 1216.1,747.2 1215.1,744.9 1214.1,742.7 1213.1,740.5 1212.0,738.3 1210.9,736.1 1209.8,734.0 1208.6,731.9 1207.4,729.8 1206.1,727.7 1204.8,725.6 1203.5,723.6 1202.1,721.6 1200.6,719.6 1199.2,717.7 1197.6,715.8 1196.1,713.9 1194.5,712.0 1192.8,710.2 1191.1,708.3 1189.4,706.6 1187.6,704.8 1185.8,703.1 1183.9,701.4 1182.0,699.7 1180.1,698.1 1178.1,696.5 1176.1,695.0 1174.0,693.5 1172.0,692.0 1169.9,690.5 1167.7,689.1 1165.6,687.7 1163.4,686.4 1161.2,685.1 1159.0,683.8 1156.7,682.6 1154.4,681.4 1152.2,680.3 1149.9,679.1 1147.6,678.1 1145.2,677.1 1142.9,676.1 1140.6,675.2 1138.2,674.3 1135.8,673.4 1133.5,672.6 1131.1,671.8 1128.7,671.1 1126.3,670.4 1123.9,669.7 1121.5,669.0 1119.1,668.4 1116.7,667.8 1114.3,667.2 1111.8,666.6 1109.4,666.0 1107.0,665.5 1104.5,665.0 1102.1,664.4 1099.7,663.9 1097.2,663.4 1094.8,662.9 1092.4,662.4 1089.9,661.8 1087.5,661.3 1085.0,660.8 1082.6,660.3 1080.1,659.8 1077.7,659.4 1075.2,658.9 1072.8,658.4 1070.4,657.9 1067.9,657.4 1065.4,657.0 1063.0,656.5 1060.5,656.0 1058.1,655.6 1055.6,655.1 1053.2,654.7 1050.7,654.2 1048.3,653.8 1045.8,653.3 1043.3,652.9 1040.9,652.4 1038.4,652.0 1036.0,651.6 1033.5,651.2 1031.0,650.7 1028.6,650.3 1026.1,649.9 1023.6,649.5 1021.2,649.1 1018.7,648.7 1016.2,648.3 1013.8,647.9 1011.3,647.5 1008.8,647.1 1006.3,646.7 1003.9,646.3 1001.4,645.9 998.9,645.5 996.4,645.2 994.0,644.8 991.5,644.4 989.0,644.1 986.5,643.7 984.1,643.3 981.6,643.0 979.1,642.6 976.6,642.3 974.1,641.9 971.7,641.6 969.2,641.3 966.7,640.9 964.2,640.6 961.7,640.3 959.3,639.9 956.8,639.6 954.3,639.3 951.8,639.0 949.3,638.7 946.8,638.3 944.3,638.0 941.9,637.7 939.4,637.4 936.9,637.1 934.4,636.8 931.9,636.5 929.4,636.2 926.9,636.0 924.4,635.7 921.9,635.4 919.5,635.1 917.0,634.8 914.5,634.6 912.0,634.3 909.5,634.0 907.0,633.8 904.5,633.5 902.0,633.2 899.5,633.0 897.0,632.7 894.5,632.5 892.0,632.2 889.5,632.0 887.1,631.7 884.6,631.5 882.1,631.3 879.6,631.0 877.1,630.8 874.6,630.6 872.1,630.3 869.6,630.1 867.1,629.9 864.6,629.7 862.1,629.5 859.6,629.3 857.1,629.0 854.6,628.8 852.1,628.6 849.6,628.4 847.1,628.2 844.6,628.0 842.2,627.8 839.7,627.6 837.2,627.4 834.7,627.3 832.2,627.1 829.7,626.9 827.2,626.7 824.7,626.5 822.2,626.3 819.7,626.2 817.2,626.0 814.7,625.8 812.2,625.7 809.7,625.5 807.2,625.3 804.7,625.2 802.2,625.0 799.7,624.8 797.2,624.7 794.7,624.5 792.2,624.4 789.7,624.2 787.2,624.1 784.7,623.9 782.2,623.8 779.7,623.6 777.2,623.5 774.7,623.4 772.2,623.2 769.7,623.1 767.2,623.0 764.7,622.8 762.2,622.7 759.7,622.6 757.2,622.4 754.7,622.3 752.2,622.2 749.7,622.1 747.2,621.9 744.7,621.8 742.2,621.7 739.7,621.6 737.2,621.5 734.7,621.4 732.2,621.3 729.7,621.1 727.2,621.0 724.7,620.9 722.2,620.8 719.7,620.7 717.2,620.6 714.7,620.5 712.2,620.4 709.7,620.3 707.2,620.2 704.7,620.1 702.2,620.0 699.7,619.9 697.2,619.8 694.7,619.7 692.2,619.6 689.7,619.6 687.2,619.5 684.7,619.4 682.2,619.3 679.7,619.2 677.2,619.1 674.7,619.0 672.2,619.0 669.7,618.9 667.2,618.8 664.7,618.7 662.2,618.6 659.7,618.6 657.2,618.5 654.7,618.4 652.2,618.3 649.7,618.2 647.2,618.2 644.7,618.1 642.2,618.0 639.7,618.0 637.2,617.9 634.7,617.8 632.2,617.7 629.7,617.7 627.2,617.6 624.7,617.5 622.2,617.5 619.7,617.4 617.2,617.3 614.7,617.3 612.2,617.2 609.7,617.1 607.2,617.1 604.7,617.0 602.2,616.9 599.7,616.9 597.2,616.8 594.7,616.7 592.2,616.7 589.7,616.6 587.2,616.5 584.6,616.5 582.1,616.4 579.6,616.3 577.1,616.3 574.6,616.2 572.1,616.2 569.6,616.1 567.1,616.0 564.6,616.0 562.1,615.9 559.6,615.8 557.1,615.8 554.6,615.7 552.1,615.7 549.6,615.6 547.1,615.5 544.6,615.5 542.1,615.4 539.6,615.3 537.1,615.3 534.6,615.2 532.1,615.1 529.6,615.1 527.1,615.0 524.6,614.9 522.1,614.9 519.6,614.8 517.1,614.7 514.6,614.7 512.1,614.6 509.6,614.5 507.1,614.5 504.6,614.4 502.1,614.3 499.6,614.3 497.1,614.2 494.6,614.1 492.1,614.0 489.6,614.0 487.1,613.9 484.5,613.8 482.0,613.8 479.5,613.7 477.0,613.6 474.5,613.5 472.0,613.4 469.5,613.4 467.0,613.3 464.5,613.2 462.0,613.1 459.5,613.0 457.0,613.0 454.5,612.9 452.0,612.8 449.5,612.7 447.0,612.6 444.5,612.5 442.0,612.5 439.5,612.4 437.0,612.3 434.5,612.2 432.0,612.1 429.5,612.0 427.0,611.9 424.5,611.8 422.0,611.7 419.5,611.6 417.0,611.5 414.5,611.4 412.0,611.3" fill="none" stroke="#c845c8" stroke-width="2.4" stroke-linejoin="round" stroke-linecap="round"/>
<rect x="262.2" y="33.6" width="1776.6" height="1307.6" fill="none" stroke="#000" stroke-width="8.5"/>
<g stroke="#000" stroke-width="7.5"><line x1="262.2" y1="1258.8" x2="289.2" y2="1258.8"/><line x1="262.2" y1="1177.2" x2="276.2" y2="1177.2"/><line x1="262.2" y1="1095.6" x2="289.2" y2="1095.6"/><line x1="262.2" y1="1014.0" x2="276.2" y2="1014.0"/><line x1="262.2" y1="932.4" x2="289.2" y2="932.4"/><line x1="262.2" y1="850.8" x2="276.2" y2="850.8"/><line x1="262.2" y1="769.2" x2="289.2" y2="769.2"/><line x1="262.2" y1="687.6" x2="276.2" y2="687.6"/><line x1="262.2" y1="606.0" x2="289.2" y2="606.0"/><line x1="262.2" y1="524.4" x2="276.2" y2="524.4"/><line x1="262.2" y1="442.8" x2="289.2" y2="442.8"/><line x1="262.2" y1="361.2" x2="276.2" y2="361.2"/><line x1="262.2" y1="279.6" x2="289.2" y2="279.6"/><line x1="262.2" y1="198.0" x2="276.2" y2="198.0"/><line x1="262.2" y1="116.4" x2="289.2" y2="116.4"/><line x1="411.6" y1="1341.2" x2="411.6" y2="1314.2"/><line x1="559.5" y1="1341.2" x2="559.5" y2="1325.2"/><line x1="707.3" y1="1341.2" x2="707.3" y2="1314.2"/><line x1="855.2" y1="1341.2" x2="855.2" y2="1325.2"/><line x1="1003.0" y1="1341.2" x2="1003.0" y2="1314.2"/><line x1="1150.8" y1="1341.2" x2="1150.8" y2="1325.2"/><line x1="1298.7" y1="1341.2" x2="1298.7" y2="1314.2"/><line x1="1446.6" y1="1341.2" x2="1446.6" y2="1325.2"/><line x1="1594.4" y1="1341.2" x2="1594.4" y2="1314.2"/><line x1="1742.2" y1="1341.2" x2="1742.2" y2="1325.2"/><line x1="1890.1" y1="1341.2" x2="1890.1" y2="1314.2"/></g>
<g class="sans" font-size="74" fill="#000" text-anchor="end">
<text x="234" y="134.4">3</text>
<text x="234" y="299.6">2</text>
<text x="234" y="462.8">1</text>
<text x="234" y="626.5">0</text>
<text x="234" y="789.2">-1</text>
<text x="234" y="952.4">-2</text>
<text x="234" y="1116.6">-3</text>
<text x="234" y="1280.3">-4</text>
</g>
<g class="sans" font-size="74" fill="#000" text-anchor="middle">
<text x="410.6" y="1427">0.1</text>
<text x="706.3" y="1427">0.2</text>
<text x="1002.0" y="1427">0.3</text>
<text x="1297.7" y="1427">0.4</text>
<text x="1593.4" y="1427">0.5</text>
<text x="1889.1" y="1427">0.6</text>
</g>
<text class="serif" x="808" y="1519" font-size="102" letter-spacing="0.75" fill="#000">E/V vs Ag/AgCl</text>
<text class="serif" font-size="106" letter-spacing="0.4" fill="#000" transform="translate(122,891.0) rotate(-90)">j/mA cm<tspan font-size="60" dx="5" dy="-45">-2</tspan></text>
<text class="serif" x="883" y="138" font-size="60" letter-spacing="1.3" fill="#000">Cycle Numbers:</text>
<g class="sans" font-size="64" fill="#000">
<text x="1255" y="210">100</text>
<text x="1255" y="288">80</text>
<text x="1255" y="370">60</text>
<text x="1255" y="448">40</text>
<text x="1255" y="526">20</text>
</g>
<line x1="1389.8" y1="500" x2="1389.8" y2="176" stroke="#000" stroke-width="7.7"/>
<polygon points="1389.8,144 1400.5,183 1379.1,183" fill="#000"/>
<rect x="453.8" y="692.0" width="679.4" height="489.2" fill="#fff" stroke="#2a2a2a" stroke-width="3"/>
<g stroke="#2a2a2a" stroke-width="2.6"><line x1="453.8" y1="1136.7" x2="460.8" y2="1136.7"/><line x1="453.8" y1="1092.3" x2="464.8" y2="1092.3"/><line x1="453.8" y1="1047.8" x2="460.8" y2="1047.8"/><line x1="453.8" y1="1003.3" x2="464.8" y2="1003.3"/><line x1="453.8" y1="958.8" x2="460.8" y2="958.8"/><line x1="453.8" y1="914.4" x2="464.8" y2="914.4"/><line x1="453.8" y1="869.9" x2="460.8" y2="869.9"/><line x1="453.8" y1="825.4" x2="464.8" y2="825.4"/><line x1="453.8" y1="780.9" x2="460.8" y2="780.9"/><line x1="453.8" y1="736.5" x2="464.8" y2="736.5"/><line x1="521.7" y1="1181.2" x2="521.7" y2="1172.2"/><line x1="589.7" y1="1181.2" x2="589.7" y2="1175.2"/><line x1="657.6" y1="1181.2" x2="657.6" y2="1172.2"/><line x1="725.6" y1="1181.2" x2="725.6" y2="1175.2"/><line x1="793.5" y1="1181.2" x2="793.5" y2="1172.2"/><line x1="861.4" y1="1181.2" x2="861.4" y2="1175.2"/><line x1="929.4" y1="1181.2" x2="929.4" y2="1172.2"/><line x1="997.3" y1="1181.2" x2="997.3" y2="1175.2"/><line x1="1065.3" y1="1181.2" x2="1065.3" y2="1172.2"/></g>
<g class="sans" font-size="36" fill="#333" text-anchor="end">
<text x="442" y="1193.7">20</text>
<text x="442" y="1104.8">40</text>
<text x="442" y="1015.8">60</text>
<text x="442" y="926.9">80</text>
<text x="442" y="837.9">100</text>
<text x="442" y="749.0">120</text>
</g>
<g class="sans" font-size="36" fill="#333" text-anchor="middle">
<text x="521.7" y="1221">20</text>
<text x="657.6" y="1221">40</text>
<text x="793.5" y="1221">60</text>
<text x="929.4" y="1221">80</text>
<text x="1065.3" y="1221">100</text>
</g>
<text class="serif" x="615" y="1271" font-size="49.5" letter-spacing="1.52" fill="#222">Cycle Numbers</text>
<text class="serif" font-size="46" letter-spacing="2.4" fill="#222" transform="translate(368.5,1130.0) rotate(-90)">Γ<tspan font-size="30" letter-spacing="0.3" dy="1">Ni(OH)</tspan><tspan font-size="26" dy="7">2</tspan><tspan dy="-8">/nmol</tspan><tspan dx="-4"> cm</tspan><tspan font-size="24" dx="0" dy="-25">-2</tspan></text>
<g fill="none" stroke="#444" stroke-width="2.1">
<circle cx="521.7" cy="1140.3" r="6.8"/>
<circle cx="657.6" cy="978.8" r="6.8"/>
<circle cx="793.5" cy="894.4" r="6.8"/>
<circle cx="929.4" cy="821.0" r="6.8"/>
<circle cx="1065.3" cy="732.0" r="6.8"/>
</g>
</svg></body></html>
